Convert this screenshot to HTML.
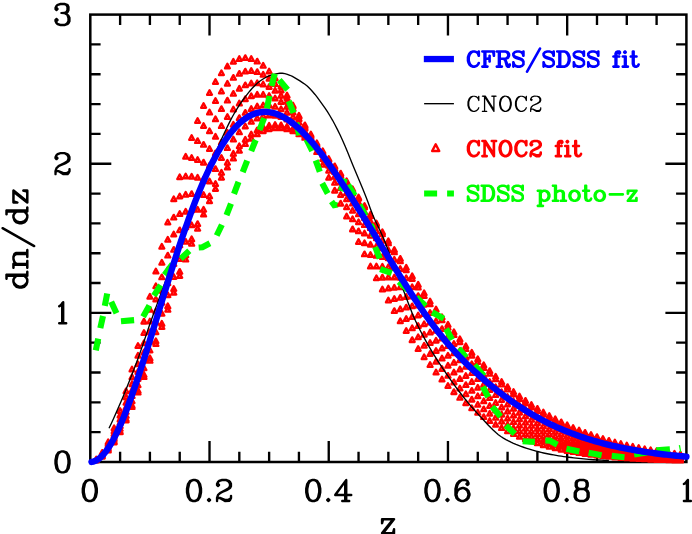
<!DOCTYPE html>
<html><head><meta charset="utf-8"><title>dn/dz</title>
<style>html,body{margin:0;padding:0;background:#fff}svg{display:block}</style></head>
<body>
<svg width="692" height="534" viewBox="0 0 692 534">
<rect width="692" height="534" fill="#fff"/>
<path d="M120.11 462.00v-10.30M120.11 14.60v10.30M149.91 462.00v-10.30M149.91 14.60v10.30M179.72 462.00v-10.30M179.72 14.60v10.30M209.52 462.00v-21.00M209.52 14.60v21.00M239.32 462.00v-10.30M239.32 14.60v10.30M269.13 462.00v-10.30M269.13 14.60v10.30M298.94 462.00v-10.30M298.94 14.60v10.30M328.74 462.00v-21.00M328.74 14.60v21.00M358.55 462.00v-10.30M358.55 14.60v10.30M388.35 462.00v-10.30M388.35 14.60v10.30M418.16 462.00v-10.30M418.16 14.60v10.30M447.96 462.00v-21.00M447.96 14.60v21.00M477.77 462.00v-10.30M477.77 14.60v10.30M507.57 462.00v-10.30M507.57 14.60v10.30M537.38 462.00v-10.30M537.38 14.60v10.30M567.18 462.00v-21.00M567.18 14.60v21.00M596.99 462.00v-10.30M596.99 14.60v10.30M626.79 462.00v-10.30M626.79 14.60v10.30M656.60 462.00v-10.30M656.60 14.60v10.30M90.30 432.17h10.30M686.40 432.17h-10.30M90.30 402.35h10.30M686.40 402.35h-10.30M90.30 372.52h10.30M686.40 372.52h-10.30M90.30 342.69h10.30M686.40 342.69h-10.30M90.30 312.87h21.00M686.40 312.87h-21.00M90.30 283.04h10.30M686.40 283.04h-10.30M90.30 253.21h10.30M686.40 253.21h-10.30M90.30 223.39h10.30M686.40 223.39h-10.30M90.30 193.56h10.30M686.40 193.56h-10.30M90.30 163.73h21.00M686.40 163.73h-21.00M90.30 133.91h10.30M686.40 133.91h-10.30M90.30 104.08h10.30M686.40 104.08h-10.30M90.30 74.25h10.30M686.40 74.25h-10.30M90.30 44.43h10.30M686.40 44.43h-10.30" stroke="#000" stroke-width="2.35" fill="none"/>
<rect x="90.30" y="14.60" width="596.10" height="447.40" fill="none" stroke="#000" stroke-width="2.50"/>
<path transform="translate(79.80 501.00) scale(1.0000)" d="M9.00 -22.25L5.31 -21.00L4.94 -20.62L2.81 -17.31L1.81 -12.38L1.81 -8.62L2.81 -3.69L4.94 -0.38L5.69 0.19L8.69 1.19L11.38 1.19L14.69 0.00L15.06 -0.38L17.19 -3.69L18.19 -8.62L18.19 -12.38L17.19 -17.31L15.06 -20.62L14.31 -21.19L11.31 -22.19ZM9.31 -19.81L10.88 -19.75L12.31 -19.00L13.00 -18.31L13.88 -16.56L14.81 -11.88L14.81 -9.12L13.81 -4.25L13.12 -2.88L12.31 -2.00L10.69 -1.19L9.12 -1.25L7.69 -2.00L7.00 -2.69L6.12 -4.44L5.19 -9.12L5.19 -11.88L6.19 -16.75L6.88 -18.12L7.69 -19.00Z" fill="#000" fill-rule="evenodd"/>
<path transform="translate(184.02 501.00) scale(1.0000)" d="M24.69 -3.19L24.38 -3.06L23.00 -1.69L22.81 -1.25L22.81 -0.75L23.00 -0.31L24.31 1.00L24.75 1.19L25.25 1.19L25.69 1.00L27.00 -0.31L27.19 -0.75L27.19 -1.25L27.00 -1.69L25.62 -3.06L25.31 -3.19ZM34.69 -21.19L34.31 -21.00L33.00 -19.69L31.81 -17.25L31.88 -15.56L32.00 -15.31L33.31 -14.00L33.75 -13.81L34.25 -13.81L34.69 -14.00L36.00 -15.31L36.12 -15.56L36.19 -16.25L36.00 -16.69L34.81 -17.88L35.00 -18.31L35.75 -19.00L38.19 -19.81L41.69 -19.81L43.31 -19.00L44.00 -18.31L44.75 -16.88L44.81 -15.31L44.00 -13.75L41.12 -11.88L35.50 -9.12L33.00 -6.69L31.81 -3.25L31.88 0.44L32.31 1.00L32.75 1.19L33.25 1.19L33.69 1.00L34.00 0.69L34.19 0.25L34.19 -1.50L34.50 -1.81L35.62 -1.81L40.38 1.06L40.75 1.19L45.44 1.12L45.69 1.00L47.00 -0.31L48.19 -2.69L48.19 -5.25L48.00 -5.69L47.69 -6.00L47.25 -6.19L46.75 -6.19L46.31 -6.00L46.00 -5.69L45.81 -5.25L45.81 -3.50L45.12 -2.88L43.69 -2.19L41.25 -2.19L36.31 -4.19L34.75 -4.19L34.69 -4.31L35.06 -5.38L36.88 -7.12L39.12 -8.19L43.50 -9.88L46.62 -11.94L47.12 -12.50L48.12 -14.50L48.12 -17.50L47.00 -19.69L45.69 -21.00L42.31 -22.19L37.75 -22.19ZM9.00 -22.25L5.31 -21.00L4.94 -20.62L2.81 -17.31L1.81 -12.38L1.81 -8.62L2.81 -3.69L4.94 -0.38L5.69 0.19L8.69 1.19L11.38 1.19L14.69 0.00L15.06 -0.38L17.19 -3.69L18.19 -8.62L18.19 -12.38L17.19 -17.31L15.06 -20.62L14.31 -21.19L11.31 -22.19ZM9.31 -19.81L10.88 -19.75L12.31 -19.00L13.00 -18.31L13.88 -16.56L14.81 -11.88L14.81 -9.12L13.81 -4.25L13.12 -2.88L12.31 -2.00L10.69 -1.19L9.12 -1.25L7.69 -2.00L7.00 -2.69L6.12 -4.44L5.19 -9.12L5.19 -11.88L6.19 -16.75L6.88 -18.12L7.69 -19.00Z" fill="#000" fill-rule="evenodd"/>
<path transform="translate(303.24 501.00) scale(1.0000)" d="M24.69 -3.19L24.38 -3.06L23.00 -1.69L22.81 -1.25L22.81 -0.75L23.00 -0.31L24.31 1.00L24.75 1.19L25.25 1.19L25.69 1.00L27.00 -0.31L27.19 -0.75L27.19 -1.25L27.00 -1.69L25.62 -3.06L25.31 -3.19ZM43.31 -22.19L42.50 -22.12L41.94 -21.62L31.12 -6.88L30.81 -6.25L30.81 -5.75L31.00 -5.31L31.31 -5.00L31.75 -4.81L40.75 -4.81L40.81 -1.25L38.75 -1.19L38.31 -1.00L37.88 -0.44L37.81 0.25L38.00 0.69L38.31 1.00L38.75 1.19L46.25 1.19L46.69 1.00L47.00 0.69L47.19 0.25L47.12 -0.44L46.69 -1.00L46.25 -1.19L44.19 -1.25L44.19 -4.75L48.25 -4.81L48.69 -5.00L49.00 -5.31L49.19 -5.75L49.19 -6.25L49.00 -6.69L48.69 -7.00L48.25 -7.19L44.19 -7.25L44.19 -21.31L44.06 -21.62L43.62 -22.06ZM40.75 -15.88L40.81 -7.25L34.50 -7.19L34.44 -7.31ZM9.00 -22.25L5.31 -21.00L4.94 -20.62L2.81 -17.31L1.81 -12.38L1.81 -8.62L2.81 -3.69L4.94 -0.38L5.69 0.19L8.69 1.19L11.38 1.19L14.69 0.00L15.06 -0.38L17.19 -3.69L18.19 -8.62L18.19 -12.38L17.19 -17.31L15.06 -20.62L14.31 -21.19L11.31 -22.19ZM9.31 -19.81L10.88 -19.75L12.31 -19.00L13.00 -18.31L13.88 -16.56L14.81 -11.88L14.81 -9.12L13.81 -4.25L13.12 -2.88L12.31 -2.00L10.69 -1.19L9.12 -1.25L7.69 -2.00L7.00 -2.69L6.12 -4.44L5.19 -9.12L5.19 -11.88L6.19 -16.75L6.88 -18.12L7.69 -19.00Z" fill="#000" fill-rule="evenodd"/>
<path transform="translate(422.46 501.00) scale(1.0000)" d="M24.69 -3.19L24.38 -3.06L23.00 -1.69L22.81 -1.25L22.81 -0.75L23.00 -0.31L24.31 1.00L24.75 1.19L25.25 1.19L25.69 1.00L27.00 -0.31L27.19 -0.75L27.19 -1.25L27.00 -1.69L25.62 -3.06L25.31 -3.19ZM43.25 -22.19L39.62 -22.19L36.31 -21.00L33.88 -18.50L32.88 -16.50L31.81 -12.31L31.81 -5.75L33.00 -2.31L35.31 0.00L38.69 1.19L41.38 1.19L44.69 0.00L47.00 -2.31L48.19 -5.75L48.19 -7.25L47.00 -10.69L44.69 -13.00L41.31 -14.19L39.75 -14.19L36.69 -13.19L36.31 -13.00L35.31 -12.00L35.25 -12.06L36.06 -15.38L36.88 -17.12L38.69 -19.00L40.12 -19.75L42.69 -19.81L44.00 -19.19L44.19 -19.00L44.19 -18.88L43.00 -17.69L42.81 -17.25L42.81 -16.75L43.00 -16.31L44.31 -15.00L44.75 -14.81L45.44 -14.88L45.69 -15.00L47.00 -16.31L47.19 -16.75L47.19 -18.25L46.12 -20.50L45.50 -21.12ZM40.69 -11.81L42.31 -11.00L43.94 -9.38L44.81 -6.81L44.81 -6.19L43.94 -3.62L42.31 -2.00L40.69 -1.19L39.31 -1.19L37.69 -2.00L36.06 -3.62L35.19 -6.19L35.19 -6.81L36.06 -9.38L37.62 -10.94L40.19 -11.81ZM9.00 -22.25L5.31 -21.00L4.94 -20.62L2.81 -17.31L1.81 -12.38L1.81 -8.62L2.81 -3.69L4.94 -0.38L5.69 0.19L8.69 1.19L11.38 1.19L14.69 0.00L15.06 -0.38L17.19 -3.69L18.19 -8.62L18.19 -12.38L17.19 -17.31L15.06 -20.62L14.31 -21.19L11.31 -22.19ZM9.31 -19.81L10.88 -19.75L12.31 -19.00L13.00 -18.31L13.88 -16.56L14.81 -11.88L14.81 -9.12L13.81 -4.25L13.12 -2.88L12.31 -2.00L10.69 -1.19L9.12 -1.25L7.69 -2.00L7.00 -2.69L6.12 -4.44L5.19 -9.12L5.19 -11.88L6.19 -16.75L6.88 -18.12L7.69 -19.00Z" fill="#000" fill-rule="evenodd"/>
<path transform="translate(541.68 501.00) scale(1.0000)" d="M24.69 -3.19L24.38 -3.06L23.00 -1.69L22.81 -1.25L22.81 -0.75L23.00 -0.31L24.31 1.00L24.75 1.19L25.25 1.19L25.69 1.00L27.00 -0.31L27.19 -0.75L27.19 -1.25L27.00 -1.69L25.62 -3.06L25.31 -3.19ZM37.62 -22.19L34.31 -21.00L33.88 -20.50L32.88 -18.50L32.81 -14.75L33.88 -12.50L34.31 -12.00L33.00 -10.69L31.88 -8.50L31.81 -3.75L33.00 -1.31L34.31 0.00L37.69 1.19L42.38 1.19L45.69 0.00L47.00 -1.31L48.19 -3.75L48.12 -8.50L47.00 -10.69L45.69 -12.00L46.12 -12.50L47.19 -14.75L47.19 -18.25L46.12 -20.50L45.69 -21.00L42.31 -22.19ZM38.12 -10.75L41.88 -10.75L43.31 -10.00L44.00 -9.31L44.75 -7.88L44.75 -4.12L44.00 -2.69L43.31 -2.00L41.88 -1.25L38.12 -1.25L36.69 -2.00L36.00 -2.69L35.25 -4.12L35.25 -7.88L36.00 -9.31L36.69 -10.00ZM36.81 -19.00L37.00 -19.19L38.31 -19.81L41.69 -19.81L43.00 -19.19L43.19 -19.00L43.81 -17.69L43.81 -15.31L43.19 -14.00L43.00 -13.81L41.69 -13.19L38.31 -13.19L37.00 -13.81L36.81 -14.00L36.19 -15.31L36.19 -17.69ZM9.00 -22.25L5.31 -21.00L4.94 -20.62L2.81 -17.31L1.81 -12.38L1.81 -8.62L2.81 -3.69L4.94 -0.38L5.69 0.19L8.69 1.19L11.38 1.19L14.69 0.00L15.06 -0.38L17.19 -3.69L18.19 -8.62L18.19 -12.38L17.19 -17.31L15.06 -20.62L14.31 -21.19L11.31 -22.19ZM9.31 -19.81L10.88 -19.75L12.31 -19.00L13.00 -18.31L13.88 -16.56L14.81 -11.88L14.81 -9.12L13.81 -4.25L13.12 -2.88L12.31 -2.00L10.69 -1.19L9.12 -1.25L7.69 -2.00L7.00 -2.69L6.12 -4.44L5.19 -9.12L5.19 -11.88L6.19 -16.75L6.88 -18.12L7.69 -19.00Z" fill="#000" fill-rule="evenodd"/>
<path transform="translate(676.90 501.00) scale(1.0000)" d="M11.25 -22.19L10.75 -22.19L10.31 -22.00L9.00 -20.69L8.81 -20.25L7.50 -18.75L6.38 -18.06L6.00 -17.69L5.81 -17.25L5.81 -16.75L6.00 -16.31L6.31 -16.00L6.75 -15.81L7.44 -15.88L8.56 -16.62L8.81 -16.62L8.81 -1.25L6.75 -1.19L6.31 -1.00L6.00 -0.69L5.81 -0.25L5.88 0.44L6.31 1.00L6.75 1.19L14.25 1.19L14.69 1.00L15.00 0.69L15.19 0.25L15.12 -0.44L14.69 -1.00L14.25 -1.19L12.19 -1.25L12.19 -21.25L12.00 -21.69L11.69 -22.00Z" fill="#000" fill-rule="evenodd"/>
<path transform="translate(52.50 472.40) scale(1.0000)" d="M9.00 -22.25L5.31 -21.00L4.94 -20.62L2.81 -17.31L1.81 -12.38L1.81 -8.62L2.81 -3.69L4.94 -0.38L5.69 0.19L8.69 1.19L11.38 1.19L14.69 0.00L15.06 -0.38L17.19 -3.69L18.19 -8.62L18.19 -12.38L17.19 -17.31L15.06 -20.62L14.31 -21.19L11.31 -22.19ZM9.31 -19.81L10.88 -19.75L12.31 -19.00L13.00 -18.31L13.88 -16.56L14.81 -11.88L14.81 -9.12L13.81 -4.25L13.12 -2.88L12.31 -2.00L10.69 -1.19L9.12 -1.25L7.69 -2.00L7.00 -2.69L6.12 -4.44L5.19 -9.12L5.19 -11.88L6.19 -16.75L6.88 -18.12L7.69 -19.00Z" fill="#000" fill-rule="evenodd"/>
<path transform="translate(52.20 323.27) scale(1.0000)" d="M11.25 -22.19L10.75 -22.19L10.31 -22.00L9.00 -20.69L8.81 -20.25L7.50 -18.75L6.38 -18.06L6.00 -17.69L5.81 -17.25L5.81 -16.75L6.00 -16.31L6.31 -16.00L6.75 -15.81L7.44 -15.88L8.56 -16.62L8.81 -16.62L8.81 -1.25L6.75 -1.19L6.31 -1.00L6.00 -0.69L5.81 -0.25L5.88 0.44L6.31 1.00L6.75 1.19L14.25 1.19L14.69 1.00L15.00 0.69L15.19 0.25L15.12 -0.44L14.69 -1.00L14.25 -1.19L12.19 -1.25L12.19 -21.25L12.00 -21.69L11.69 -22.00Z" fill="#000" fill-rule="evenodd"/>
<path transform="translate(52.50 174.13) scale(1.0000)" d="M4.69 -21.19L4.31 -21.00L3.00 -19.69L1.81 -17.25L1.88 -15.56L2.00 -15.31L3.31 -14.00L3.75 -13.81L4.25 -13.81L4.69 -14.00L6.00 -15.31L6.12 -15.56L6.19 -16.25L6.00 -16.69L4.81 -17.88L5.00 -18.31L5.75 -19.00L8.19 -19.81L11.69 -19.81L13.31 -19.00L14.00 -18.31L14.75 -16.88L14.81 -15.31L14.00 -13.75L11.12 -11.88L5.50 -9.12L3.00 -6.69L1.81 -3.25L1.88 0.44L2.31 1.00L2.75 1.19L3.25 1.19L3.69 1.00L4.00 0.69L4.19 0.25L4.19 -1.50L4.50 -1.81L5.62 -1.81L10.38 1.06L10.75 1.19L15.44 1.12L15.69 1.00L17.00 -0.31L18.19 -2.69L18.19 -5.25L18.00 -5.69L17.69 -6.00L17.25 -6.19L16.75 -6.19L16.31 -6.00L16.00 -5.69L15.81 -5.25L15.81 -3.50L15.12 -2.88L13.69 -2.19L11.25 -2.19L6.31 -4.19L4.75 -4.19L4.69 -4.31L5.06 -5.38L6.88 -7.12L9.12 -8.19L13.50 -9.88L16.62 -11.94L17.12 -12.50L18.12 -14.50L18.12 -17.50L17.00 -19.69L15.69 -21.00L12.31 -22.19L7.75 -22.19Z" fill="#000" fill-rule="evenodd"/>
<path transform="translate(52.50 25.00) scale(1.0000)" d="M7.75 -22.19L4.31 -21.00L3.00 -19.69L1.88 -17.50L1.88 -15.56L2.00 -15.31L3.31 -14.00L3.75 -13.81L4.25 -13.81L4.69 -14.00L6.00 -15.31L6.19 -15.75L6.19 -16.25L6.00 -16.69L4.81 -17.88L5.00 -18.31L5.62 -18.94L8.19 -19.81L11.69 -19.81L13.00 -19.19L13.19 -19.00L13.81 -17.69L13.81 -15.31L13.19 -14.00L13.00 -13.81L11.69 -13.19L8.56 -13.12L8.00 -12.69L7.81 -12.25L7.81 -11.75L8.00 -11.31L8.56 -10.88L11.69 -10.81L13.12 -10.12L13.94 -9.38L14.81 -6.81L14.81 -4.31L14.00 -2.69L13.31 -2.00L11.88 -1.25L8.19 -1.19L5.75 -2.00L5.00 -2.69L4.81 -3.12L6.00 -4.31L6.19 -4.75L6.19 -5.25L6.00 -5.69L4.69 -7.00L4.25 -7.19L3.75 -7.19L3.31 -7.00L2.00 -5.69L1.81 -5.25L1.81 -3.75L3.00 -1.31L4.31 0.00L4.69 0.19L7.75 1.19L12.31 1.19L15.69 0.00L17.00 -1.31L18.12 -3.50L18.12 -7.50L17.00 -9.69L15.00 -11.69L15.69 -12.00L16.00 -12.31L17.12 -14.50L17.19 -18.25L16.12 -20.50L15.69 -21.00L12.31 -22.19Z" fill="#000" fill-rule="evenodd"/>
<path transform="translate(379.05 533.20) scale(1.0000)" d="M2.31 -15.00L2.00 -14.69L1.81 -14.25L1.81 -9.75L2.00 -9.31L2.31 -9.00L2.75 -8.81L3.44 -8.88L4.00 -9.31L4.19 -9.69L5.00 -12.81L11.50 -12.75L1.94 -0.62L1.81 -0.31L1.81 0.31L1.94 0.62L2.38 1.06L2.69 1.19L15.25 1.19L15.69 1.00L16.00 0.69L16.19 0.25L16.19 -4.25L16.00 -4.69L15.69 -5.00L15.25 -5.19L14.56 -5.12L14.00 -4.69L13.81 -4.31L13.00 -1.19L6.50 -1.25L16.06 -13.38L16.19 -13.69L16.19 -14.31L16.06 -14.62L15.62 -15.06L15.31 -15.19L2.75 -15.19Z" fill="#000" fill-rule="evenodd"/>
<path transform="translate(27.30 290.60) rotate(-90) scale(0.9900)" d="M88.25 -15.00L87.88 -14.56L87.75 -14.12L87.75 -9.88L88.00 -9.25L88.62 -8.81L89.12 -8.75L89.56 -8.88L90.12 -9.44L90.94 -12.62L91.06 -12.75L97.38 -12.69L88.00 -0.81L87.75 -0.19L87.75 0.19L87.94 0.69L88.31 1.06L88.81 1.25L101.12 1.25L101.75 1.00L102.12 0.56L102.25 0.12L102.25 -4.12L102.00 -4.75L101.38 -5.19L100.88 -5.25L100.44 -5.12L99.88 -4.56L99.06 -1.38L98.94 -1.25L92.62 -1.31L102.00 -13.19L102.25 -13.81L102.25 -14.19L102.06 -14.69L101.69 -15.06L101.19 -15.25L88.88 -15.25ZM22.00 -14.75L21.81 -14.38L21.75 -13.88L21.88 -13.44L22.25 -13.00L22.88 -12.75L24.75 -12.69L24.75 -1.31L22.88 -1.25L22.25 -1.00L21.88 -0.56L21.75 -0.12L21.88 0.56L22.25 1.00L22.88 1.25L30.12 1.25L30.56 1.12L31.00 0.75L31.19 0.38L31.25 -0.12L31.12 -0.56L30.75 -1.00L30.12 -1.25L28.25 -1.31L28.25 -10.44L29.75 -11.94L32.19 -12.75L33.69 -12.75L34.94 -12.12L35.75 -10.69L35.75 -1.31L33.88 -1.25L33.25 -1.00L32.88 -0.56L32.75 -0.12L32.81 0.38L33.00 0.75L33.44 1.12L33.88 1.25L41.12 1.25L41.56 1.12L42.00 0.75L42.19 0.38L42.25 -0.12L42.12 -0.56L41.75 -1.00L41.12 -1.25L39.25 -1.31L39.25 -11.12L39.12 -11.62L38.19 -13.50L37.75 -14.00L37.31 -14.25L34.19 -15.25L31.50 -15.19L28.69 -14.25L28.31 -14.00L28.06 -14.69L27.69 -15.06L27.19 -15.25L22.88 -15.25L22.44 -15.12ZM76.44 -22.12L76.00 -21.75L75.75 -21.12L75.81 -20.62L76.00 -20.25L76.44 -19.88L76.88 -19.75L78.75 -19.69L78.75 -14.06L78.69 -14.00L76.62 -15.12L76.12 -15.25L73.81 -15.25L70.44 -14.12L70.06 -13.88L68.12 -11.94L67.75 -11.31L66.75 -8.12L66.81 -5.50L67.75 -2.69L68.12 -2.06L70.06 -0.12L70.69 0.25L73.50 1.19L76.12 1.25L76.62 1.12L78.69 0.00L78.94 0.69L79.31 1.06L79.81 1.25L84.12 1.25L84.56 1.12L85.00 0.75L85.25 0.12L85.19 -0.38L85.00 -0.75L84.56 -1.12L84.12 -1.25L82.25 -1.31L82.19 -21.44L81.69 -22.06L81.19 -22.25L76.88 -22.25ZM74.31 -12.75L75.69 -12.75L77.19 -12.00L78.75 -10.44L78.75 -3.56L77.19 -2.00L75.69 -1.25L74.31 -1.25L72.81 -2.00L71.06 -3.75L70.25 -6.19L70.25 -7.81L71.06 -10.25L72.81 -12.00ZM11.44 -22.12L11.00 -21.75L10.75 -21.12L10.81 -20.62L11.00 -20.25L11.44 -19.88L11.88 -19.75L13.75 -19.69L13.75 -14.06L13.69 -14.00L11.62 -15.12L11.12 -15.25L8.81 -15.25L5.44 -14.12L5.06 -13.88L3.12 -11.94L2.75 -11.31L1.75 -8.12L1.81 -5.50L2.75 -2.69L3.12 -2.06L5.06 -0.12L5.69 0.25L8.50 1.19L11.12 1.25L11.62 1.12L13.69 0.00L13.94 0.69L14.31 1.06L14.81 1.25L19.12 1.25L19.56 1.12L20.00 0.75L20.25 0.12L20.19 -0.38L20.00 -0.75L19.56 -1.12L19.12 -1.25L17.25 -1.31L17.19 -21.44L16.69 -22.06L16.19 -22.25L11.88 -22.25ZM9.31 -12.75L10.69 -12.75L12.19 -12.00L13.75 -10.44L13.75 -3.56L12.19 -2.00L10.69 -1.25L9.31 -1.25L7.81 -2.00L6.06 -3.75L5.25 -6.19L5.25 -7.81L6.06 -10.25L7.81 -12.00ZM63.56 -26.12L63.12 -26.25L62.62 -26.19L61.88 -25.62L43.88 6.38L43.75 7.12L44.00 7.75L44.44 8.12L44.88 8.25L45.38 8.19L46.12 7.62L64.12 -24.38L64.25 -25.12L64.00 -25.75Z" fill="#000" fill-rule="evenodd"/>
<path d="M331.5 201.5L335.3 206.6L336.8 202.3" stroke="#00ff00" stroke-width="6.10" fill="none" stroke-linejoin="bevel"/>
<path d="M96.26 456.75l2.40 4.50h-4.80zM102.22 450.18l2.40 4.50h-4.80zM108.18 439.61l2.40 4.50h-4.80zM114.14 425.49l2.40 4.50h-4.80zM120.11 408.30l2.40 4.50h-4.80zM126.07 388.53l2.40 4.50h-4.80zM132.03 366.71l2.40 4.50h-4.80zM137.99 343.34l2.40 4.50h-4.80zM143.95 318.93l2.40 4.50h-4.80zM149.91 293.94l2.40 4.50h-4.80zM155.87 268.82l2.40 4.50h-4.80zM161.83 243.97l2.40 4.50h-4.80zM167.79 219.76l2.40 4.50h-4.80zM173.75 196.53l2.40 4.50h-4.80zM179.72 174.54l2.40 4.50h-4.80zM185.68 154.03l2.40 4.50h-4.80zM191.64 135.22l2.40 4.50h-4.80zM197.60 118.24l2.40 4.50h-4.80zM203.56 103.21l2.40 4.50h-4.80zM209.52 90.22l2.40 4.50h-4.80zM215.48 79.30l2.40 4.50h-4.80zM221.44 70.48l2.40 4.50h-4.80zM227.40 63.72l2.40 4.50h-4.80zM233.36 59.00l2.40 4.50h-4.80zM239.32 56.25l2.40 4.50h-4.80zM245.29 55.39l2.40 4.50h-4.80zM251.25 56.31l2.40 4.50h-4.80zM257.21 58.92l2.40 4.50h-4.80zM263.17 63.09l2.40 4.50h-4.80zM269.13 68.70l2.40 4.50h-4.80zM275.09 75.61l2.40 4.50h-4.80zM281.05 83.69l2.40 4.50h-4.80zM287.01 92.81l2.40 4.50h-4.80zM292.97 102.83l2.40 4.50h-4.80zM298.94 113.62l2.40 4.50h-4.80zM304.90 125.06l2.40 4.50h-4.80zM310.86 137.03l2.40 4.50h-4.80zM316.82 149.40l2.40 4.50h-4.80zM322.78 162.08l2.40 4.50h-4.80zM328.74 174.95l2.40 4.50h-4.80zM334.70 187.93l2.40 4.50h-4.80zM340.66 200.93l2.40 4.50h-4.80zM346.62 213.87l2.40 4.50h-4.80zM352.58 226.68l2.40 4.50h-4.80zM358.55 239.30l2.40 4.50h-4.80zM364.51 251.67l2.40 4.50h-4.80zM370.47 263.75l2.40 4.50h-4.80zM376.43 275.49l2.40 4.50h-4.80zM382.39 286.87l2.40 4.50h-4.80zM388.35 297.84l2.40 4.50h-4.80zM394.31 308.40l2.40 4.50h-4.80zM400.27 318.53l2.40 4.50h-4.80zM406.23 328.21l2.40 4.50h-4.80zM412.19 337.43l2.40 4.50h-4.80zM418.16 346.20l2.40 4.50h-4.80zM424.12 354.51l2.40 4.50h-4.80zM430.08 362.36l2.40 4.50h-4.80zM436.04 369.78l2.40 4.50h-4.80zM442.00 376.75l2.40 4.50h-4.80zM447.96 383.30l2.40 4.50h-4.80zM453.92 389.43l2.40 4.50h-4.80zM459.88 395.16l2.40 4.50h-4.80zM465.84 400.50l2.40 4.50h-4.80zM471.80 405.48l2.40 4.50h-4.80zM477.77 410.10l2.40 4.50h-4.80zM483.73 414.39l2.40 4.50h-4.80zM489.69 418.36l2.40 4.50h-4.80zM495.65 422.02l2.40 4.50h-4.80zM501.61 425.40l2.40 4.50h-4.80zM507.57 428.51l2.40 4.50h-4.80zM513.53 431.37l2.40 4.50h-4.80zM519.49 434.00l2.40 4.50h-4.80zM525.45 436.40l2.40 4.50h-4.80zM531.41 438.60l2.40 4.50h-4.80zM537.38 440.61l2.40 4.50h-4.80zM543.34 442.44l2.40 4.50h-4.80zM549.30 444.10l2.40 4.50h-4.80zM555.26 445.62l2.40 4.50h-4.80zM561.22 446.99l2.40 4.50h-4.80zM567.18 448.24l2.40 4.50h-4.80zM573.14 449.37l2.40 4.50h-4.80zM579.10 450.39l2.40 4.50h-4.80zM585.06 451.31l2.40 4.50h-4.80zM591.02 452.14l2.40 4.50h-4.80zM596.99 452.88l2.40 4.50h-4.80zM602.95 453.55l2.40 4.50h-4.80zM608.91 454.16l2.40 4.50h-4.80zM614.87 454.70l2.40 4.50h-4.80zM620.83 455.18l2.40 4.50h-4.80zM626.79 455.62l2.40 4.50h-4.80zM632.75 456.00l2.40 4.50h-4.80zM638.71 456.35l2.40 4.50h-4.80zM644.67 456.66l2.40 4.50h-4.80zM650.63 456.93l2.40 4.50h-4.80zM656.60 457.18l2.40 4.50h-4.80zM662.56 457.39l2.40 4.50h-4.80zM668.52 457.59l2.40 4.50h-4.80zM674.48 457.76l2.40 4.50h-4.80zM680.44 457.91l2.40 4.50h-4.80zM96.26 456.96l2.40 4.50h-4.80zM102.22 450.99l2.40 4.50h-4.80zM108.18 441.37l2.40 4.50h-4.80zM114.14 428.50l2.40 4.50h-4.80zM120.11 412.77l2.40 4.50h-4.80zM126.07 394.64l2.40 4.50h-4.80zM132.03 374.55l2.40 4.50h-4.80zM137.99 352.96l2.40 4.50h-4.80zM143.95 330.31l2.40 4.50h-4.80zM149.91 307.01l2.40 4.50h-4.80zM155.87 283.47l2.40 4.50h-4.80zM161.83 260.06l2.40 4.50h-4.80zM167.79 237.10l2.40 4.50h-4.80zM173.75 214.90l2.40 4.50h-4.80zM179.72 193.72l2.40 4.50h-4.80zM185.68 173.79l2.40 4.50h-4.80zM191.64 155.31l2.40 4.50h-4.80zM197.60 138.42l2.40 4.50h-4.80zM203.56 123.24l2.40 4.50h-4.80zM209.52 109.87l2.40 4.50h-4.80zM215.48 98.36l2.40 4.50h-4.80zM221.44 88.75l2.40 4.50h-4.80zM227.40 81.02l2.40 4.50h-4.80zM233.36 75.17l2.40 4.50h-4.80zM239.32 71.14l2.40 4.50h-4.80zM245.29 68.90l2.40 4.50h-4.80zM251.25 68.35l2.40 4.50h-4.80zM257.21 69.41l2.40 4.50h-4.80zM263.17 71.98l2.40 4.50h-4.80zM269.13 75.97l2.40 4.50h-4.80zM275.09 81.25l2.40 4.50h-4.80zM281.05 87.71l2.40 4.50h-4.80zM287.01 95.24l2.40 4.50h-4.80zM292.97 103.72l2.40 4.50h-4.80zM298.94 113.02l2.40 4.50h-4.80zM304.90 123.04l2.40 4.50h-4.80zM310.86 133.67l2.40 4.50h-4.80zM316.82 144.79l2.40 4.50h-4.80zM322.78 156.30l2.40 4.50h-4.80zM328.74 168.11l2.40 4.50h-4.80zM334.70 180.13l2.40 4.50h-4.80zM340.66 192.26l2.40 4.50h-4.80zM346.62 204.44l2.40 4.50h-4.80zM352.58 216.60l2.40 4.50h-4.80zM358.55 228.66l2.40 4.50h-4.80zM364.51 240.57l2.40 4.50h-4.80zM370.47 252.28l2.40 4.50h-4.80zM376.43 263.75l2.40 4.50h-4.80zM382.39 274.93l2.40 4.50h-4.80zM388.35 285.79l2.40 4.50h-4.80zM394.31 296.31l2.40 4.50h-4.80zM400.27 306.46l2.40 4.50h-4.80zM406.23 316.23l2.40 4.50h-4.80zM412.19 325.59l2.40 4.50h-4.80zM418.16 334.55l2.40 4.50h-4.80zM424.12 343.10l2.40 4.50h-4.80zM430.08 351.24l2.40 4.50h-4.80zM436.04 358.95l2.40 4.50h-4.80zM442.00 366.26l2.40 4.50h-4.80zM447.96 373.17l2.40 4.50h-4.80zM453.92 379.68l2.40 4.50h-4.80zM459.88 385.80l2.40 4.50h-4.80zM465.84 391.55l2.40 4.50h-4.80zM471.80 396.93l2.40 4.50h-4.80zM477.77 401.96l2.40 4.50h-4.80zM483.73 406.66l2.40 4.50h-4.80zM489.69 411.03l2.40 4.50h-4.80zM495.65 415.10l2.40 4.50h-4.80zM501.61 418.87l2.40 4.50h-4.80zM507.57 422.37l2.40 4.50h-4.80zM513.53 425.60l2.40 4.50h-4.80zM519.49 428.59l2.40 4.50h-4.80zM525.45 431.34l2.40 4.50h-4.80zM531.41 433.88l2.40 4.50h-4.80zM537.38 436.21l2.40 4.50h-4.80zM543.34 438.35l2.40 4.50h-4.80zM549.30 440.31l2.40 4.50h-4.80zM555.26 442.10l2.40 4.50h-4.80zM561.22 443.74l2.40 4.50h-4.80zM567.18 445.24l2.40 4.50h-4.80zM573.14 446.60l2.40 4.50h-4.80zM579.10 447.84l2.40 4.50h-4.80zM585.06 448.97l2.40 4.50h-4.80zM591.02 449.99l2.40 4.50h-4.80zM596.99 450.92l2.40 4.50h-4.80zM602.95 451.76l2.40 4.50h-4.80zM608.91 452.51l2.40 4.50h-4.80zM614.87 453.20l2.40 4.50h-4.80zM620.83 453.82l2.40 4.50h-4.80zM626.79 454.38l2.40 4.50h-4.80zM632.75 454.88l2.40 4.50h-4.80zM638.71 455.33l2.40 4.50h-4.80zM644.67 455.73l2.40 4.50h-4.80zM650.63 456.10l2.40 4.50h-4.80zM656.60 456.42l2.40 4.50h-4.80zM662.56 456.71l2.40 4.50h-4.80zM668.52 456.97l2.40 4.50h-4.80zM674.48 457.20l2.40 4.50h-4.80zM680.44 457.41l2.40 4.50h-4.80zM96.26 457.14l2.40 4.50h-4.80zM102.22 451.70l2.40 4.50h-4.80zM108.18 442.93l2.40 4.50h-4.80zM114.14 431.15l2.40 4.50h-4.80zM120.11 416.74l2.40 4.50h-4.80zM126.07 400.07l2.40 4.50h-4.80zM132.03 381.55l2.40 4.50h-4.80zM137.99 361.57l2.40 4.50h-4.80zM143.95 340.52l2.40 4.50h-4.80zM149.91 318.79l2.40 4.50h-4.80zM155.87 296.72l2.40 4.50h-4.80zM161.83 274.66l2.40 4.50h-4.80zM167.79 252.90l2.40 4.50h-4.80zM173.75 231.73l2.40 4.50h-4.80zM179.72 211.38l2.40 4.50h-4.80zM185.68 192.08l2.40 4.50h-4.80zM191.64 174.01l2.40 4.50h-4.80zM197.60 157.33l2.40 4.50h-4.80zM203.56 142.14l2.40 4.50h-4.80zM209.52 128.55l2.40 4.50h-4.80zM215.48 116.63l2.40 4.50h-4.80zM221.44 106.42l2.40 4.50h-4.80zM227.40 97.92l2.40 4.50h-4.80zM233.36 91.14l2.40 4.50h-4.80zM239.32 86.06l2.40 4.50h-4.80zM245.29 82.64l2.40 4.50h-4.80zM251.25 80.82l2.40 4.50h-4.80zM257.21 80.53l2.40 4.50h-4.80zM263.17 81.69l2.40 4.50h-4.80zM269.13 84.22l2.40 4.50h-4.80zM275.09 88.03l2.40 4.50h-4.80zM281.05 93.02l2.40 4.50h-4.80zM287.01 99.07l2.40 4.50h-4.80zM292.97 106.11l2.40 4.50h-4.80zM298.94 114.00l2.40 4.50h-4.80zM304.90 122.66l2.40 4.50h-4.80zM310.86 131.99l2.40 4.50h-4.80zM316.82 141.88l2.40 4.50h-4.80zM322.78 152.23l2.40 4.50h-4.80zM328.74 162.97l2.40 4.50h-4.80zM334.70 173.99l2.40 4.50h-4.80zM340.66 185.23l2.40 4.50h-4.80zM346.62 196.59l2.40 4.50h-4.80zM352.58 208.02l2.40 4.50h-4.80zM358.55 219.45l2.40 4.50h-4.80zM364.51 230.82l2.40 4.50h-4.80zM370.47 242.07l2.40 4.50h-4.80zM376.43 253.16l2.40 4.50h-4.80zM382.39 264.05l2.40 4.50h-4.80zM388.35 274.69l2.40 4.50h-4.80zM394.31 285.06l2.40 4.50h-4.80zM400.27 295.14l2.40 4.50h-4.80zM406.23 304.89l2.40 4.50h-4.80zM412.19 314.30l2.40 4.50h-4.80zM418.16 323.35l2.40 4.50h-4.80zM424.12 332.04l2.40 4.50h-4.80zM430.08 340.36l2.40 4.50h-4.80zM436.04 348.30l2.40 4.50h-4.80zM442.00 355.86l2.40 4.50h-4.80zM447.96 363.05l2.40 4.50h-4.80zM453.92 369.87l2.40 4.50h-4.80zM459.88 376.32l2.40 4.50h-4.80zM465.84 382.41l2.40 4.50h-4.80zM471.80 388.14l2.40 4.50h-4.80zM477.77 393.54l2.40 4.50h-4.80zM483.73 398.60l2.40 4.50h-4.80zM489.69 403.35l2.40 4.50h-4.80zM495.65 407.79l2.40 4.50h-4.80zM501.61 411.93l2.40 4.50h-4.80zM507.57 415.80l2.40 4.50h-4.80zM513.53 419.39l2.40 4.50h-4.80zM519.49 422.73l2.40 4.50h-4.80zM525.45 425.83l2.40 4.50h-4.80zM531.41 428.70l2.40 4.50h-4.80zM537.38 431.35l2.40 4.50h-4.80zM543.34 433.80l2.40 4.50h-4.80zM549.30 436.06l2.40 4.50h-4.80zM555.26 438.14l2.40 4.50h-4.80zM561.22 440.05l2.40 4.50h-4.80zM567.18 441.80l2.40 4.50h-4.80zM573.14 443.41l2.40 4.50h-4.80zM579.10 444.89l2.40 4.50h-4.80zM585.06 446.24l2.40 4.50h-4.80zM591.02 447.47l2.40 4.50h-4.80zM596.99 448.59l2.40 4.50h-4.80zM602.95 449.61l2.40 4.50h-4.80zM608.91 450.55l2.40 4.50h-4.80zM614.87 451.39l2.40 4.50h-4.80zM620.83 452.16l2.40 4.50h-4.80zM626.79 452.86l2.40 4.50h-4.80zM632.75 453.49l2.40 4.50h-4.80zM638.71 454.06l2.40 4.50h-4.80zM644.67 454.58l2.40 4.50h-4.80zM650.63 455.04l2.40 4.50h-4.80zM656.60 455.46l2.40 4.50h-4.80zM662.56 455.84l2.40 4.50h-4.80zM668.52 456.18l2.40 4.50h-4.80zM674.48 456.49l2.40 4.50h-4.80zM680.44 456.76l2.40 4.50h-4.80zM96.26 457.31l2.40 4.50h-4.80zM102.22 452.33l2.40 4.50h-4.80zM108.18 444.31l2.40 4.50h-4.80zM114.14 433.51l2.40 4.50h-4.80zM120.11 420.27l2.40 4.50h-4.80zM126.07 404.91l2.40 4.50h-4.80zM132.03 387.80l2.40 4.50h-4.80zM137.99 369.28l2.40 4.50h-4.80zM143.95 349.71l2.40 4.50h-4.80zM149.91 329.41l2.40 4.50h-4.80zM155.87 308.72l2.40 4.50h-4.80zM161.83 287.93l2.40 4.50h-4.80zM167.79 267.32l2.40 4.50h-4.80zM173.75 247.15l2.40 4.50h-4.80zM179.72 227.64l2.40 4.50h-4.80zM185.68 209.01l2.40 4.50h-4.80zM191.64 191.41l2.40 4.50h-4.80zM197.60 175.02l2.40 4.50h-4.80zM203.56 159.93l2.40 4.50h-4.80zM209.52 146.26l2.40 4.50h-4.80zM215.48 134.07l2.40 4.50h-4.80zM221.44 123.42l2.40 4.50h-4.80zM227.40 114.33l2.40 4.50h-4.80zM233.36 106.81l2.40 4.50h-4.80zM239.32 100.86l2.40 4.50h-4.80zM245.29 96.44l2.40 4.50h-4.80zM251.25 93.53l2.40 4.50h-4.80zM257.21 92.07l2.40 4.50h-4.80zM263.17 91.99l2.40 4.50h-4.80zM269.13 93.24l2.40 4.50h-4.80zM275.09 95.72l2.40 4.50h-4.80zM281.05 99.36l2.40 4.50h-4.80zM287.01 104.07l2.40 4.50h-4.80zM292.97 109.76l2.40 4.50h-4.80zM298.94 116.34l2.40 4.50h-4.80zM304.90 123.72l2.40 4.50h-4.80zM310.86 131.80l2.40 4.50h-4.80zM316.82 140.49l2.40 4.50h-4.80zM322.78 149.72l2.40 4.50h-4.80zM328.74 159.38l2.40 4.50h-4.80zM334.70 169.41l2.40 4.50h-4.80zM340.66 179.72l2.40 4.50h-4.80zM346.62 190.24l2.40 4.50h-4.80zM352.58 200.90l2.40 4.50h-4.80zM358.55 211.64l2.40 4.50h-4.80zM364.51 222.40l2.40 4.50h-4.80zM370.47 233.12l2.40 4.50h-4.80zM376.43 243.76l2.40 4.50h-4.80zM382.39 254.26l2.40 4.50h-4.80zM388.35 264.60l2.40 4.50h-4.80zM394.31 274.74l2.40 4.50h-4.80zM400.27 284.64l2.40 4.50h-4.80zM406.23 294.28l2.40 4.50h-4.80zM412.19 303.64l2.40 4.50h-4.80zM418.16 312.70l2.40 4.50h-4.80zM424.12 321.44l2.40 4.50h-4.80zM430.08 329.86l2.40 4.50h-4.80zM436.04 337.94l2.40 4.50h-4.80zM442.00 345.68l2.40 4.50h-4.80zM447.96 353.08l2.40 4.50h-4.80zM453.92 360.13l2.40 4.50h-4.80zM459.88 366.84l2.40 4.50h-4.80zM465.84 373.21l2.40 4.50h-4.80zM471.80 379.24l2.40 4.50h-4.80zM477.77 384.95l2.40 4.50h-4.80zM483.73 390.34l2.40 4.50h-4.80zM489.69 395.42l2.40 4.50h-4.80zM495.65 400.19l2.40 4.50h-4.80zM501.61 404.68l2.40 4.50h-4.80zM507.57 408.88l2.40 4.50h-4.80zM513.53 412.81l2.40 4.50h-4.80zM519.49 416.48l2.40 4.50h-4.80zM525.45 419.91l2.40 4.50h-4.80zM531.41 423.10l2.40 4.50h-4.80zM537.38 426.07l2.40 4.50h-4.80zM543.34 428.83l2.40 4.50h-4.80zM549.30 431.38l2.40 4.50h-4.80zM555.26 433.75l2.40 4.50h-4.80zM561.22 435.94l2.40 4.50h-4.80zM567.18 437.96l2.40 4.50h-4.80zM573.14 439.82l2.40 4.50h-4.80zM579.10 441.54l2.40 4.50h-4.80zM585.06 443.12l2.40 4.50h-4.80zM591.02 444.57l2.40 4.50h-4.80zM596.99 445.90l2.40 4.50h-4.80zM602.95 447.12l2.40 4.50h-4.80zM608.91 448.24l2.40 4.50h-4.80zM614.87 449.26l2.40 4.50h-4.80zM620.83 450.19l2.40 4.50h-4.80zM626.79 451.05l2.40 4.50h-4.80zM632.75 451.82l2.40 4.50h-4.80zM638.71 452.53l2.40 4.50h-4.80zM644.67 453.17l2.40 4.50h-4.80zM650.63 453.75l2.40 4.50h-4.80zM656.60 454.28l2.40 4.50h-4.80zM662.56 454.76l2.40 4.50h-4.80zM668.52 455.20l2.40 4.50h-4.80zM674.48 455.59l2.40 4.50h-4.80zM680.44 455.94l2.40 4.50h-4.80zM96.26 457.45l2.40 4.50h-4.80zM102.22 452.89l2.40 4.50h-4.80zM108.18 445.53l2.40 4.50h-4.80zM114.14 435.61l2.40 4.50h-4.80zM120.11 423.41l2.40 4.50h-4.80zM126.07 409.24l2.40 4.50h-4.80zM132.03 393.40l2.40 4.50h-4.80zM137.99 376.21l2.40 4.50h-4.80zM143.95 357.98l2.40 4.50h-4.80zM149.91 339.01l2.40 4.50h-4.80zM155.87 319.60l2.40 4.50h-4.80zM161.83 300.00l2.40 4.50h-4.80zM167.79 280.49l2.40 4.50h-4.80zM173.75 261.29l2.40 4.50h-4.80zM179.72 242.62l2.40 4.50h-4.80zM185.68 224.66l2.40 4.50h-4.80zM191.64 207.59l2.40 4.50h-4.80zM197.60 191.55l2.40 4.50h-4.80zM203.56 176.65l2.40 4.50h-4.80zM209.52 162.99l2.40 4.50h-4.80zM215.48 150.66l2.40 4.50h-4.80zM221.44 139.71l2.40 4.50h-4.80zM227.40 130.17l2.40 4.50h-4.80zM233.36 122.07l2.40 4.50h-4.80zM239.32 115.41l2.40 4.50h-4.80zM245.29 110.17l2.40 4.50h-4.80zM251.25 106.33l2.40 4.50h-4.80zM257.21 103.86l2.40 4.50h-4.80zM263.17 102.70l2.40 4.50h-4.80zM269.13 102.81l2.40 4.50h-4.80zM275.09 104.11l2.40 4.50h-4.80zM281.05 106.54l2.40 4.50h-4.80zM287.01 110.02l2.40 4.50h-4.80zM292.97 114.48l2.40 4.50h-4.80zM298.94 119.84l2.40 4.50h-4.80zM304.90 126.01l2.40 4.50h-4.80zM310.86 132.91l2.40 4.50h-4.80zM316.82 140.46l2.40 4.50h-4.80zM322.78 148.59l2.40 4.50h-4.80zM328.74 157.21l2.40 4.50h-4.80zM334.70 166.25l2.40 4.50h-4.80zM340.66 175.63l2.40 4.50h-4.80zM346.62 185.29l2.40 4.50h-4.80zM352.58 195.15l2.40 4.50h-4.80zM358.55 205.17l2.40 4.50h-4.80zM364.51 215.27l2.40 4.50h-4.80zM370.47 225.41l2.40 4.50h-4.80zM376.43 235.53l2.40 4.50h-4.80zM382.39 245.59l2.40 4.50h-4.80zM388.35 255.55l2.40 4.50h-4.80zM394.31 265.38l2.40 4.50h-4.80zM400.27 275.03l2.40 4.50h-4.80zM406.23 284.48l2.40 4.50h-4.80zM412.19 293.71l2.40 4.50h-4.80zM418.16 302.69l2.40 4.50h-4.80zM424.12 311.41l2.40 4.50h-4.80zM430.08 319.84l2.40 4.50h-4.80zM436.04 327.98l2.40 4.50h-4.80zM442.00 335.82l2.40 4.50h-4.80zM447.96 343.35l2.40 4.50h-4.80zM453.92 350.57l2.40 4.50h-4.80zM459.88 357.48l2.40 4.50h-4.80zM465.84 364.07l2.40 4.50h-4.80zM471.80 370.35l2.40 4.50h-4.80zM477.77 376.31l2.40 4.50h-4.80zM483.73 381.98l2.40 4.50h-4.80zM489.69 387.34l2.40 4.50h-4.80zM495.65 392.41l2.40 4.50h-4.80zM501.61 397.19l2.40 4.50h-4.80zM507.57 401.70l2.40 4.50h-4.80zM513.53 405.94l2.40 4.50h-4.80zM519.49 409.93l2.40 4.50h-4.80zM525.45 413.66l2.40 4.50h-4.80zM531.41 417.16l2.40 4.50h-4.80zM537.38 420.43l2.40 4.50h-4.80zM543.34 423.48l2.40 4.50h-4.80zM549.30 426.33l2.40 4.50h-4.80zM555.26 428.98l2.40 4.50h-4.80zM561.22 431.44l2.40 4.50h-4.80zM567.18 433.73l2.40 4.50h-4.80zM573.14 435.85l2.40 4.50h-4.80zM579.10 437.81l2.40 4.50h-4.80zM585.06 439.63l2.40 4.50h-4.80zM591.02 441.31l2.40 4.50h-4.80zM596.99 442.86l2.40 4.50h-4.80zM602.95 444.28l2.40 4.50h-4.80zM608.91 445.60l2.40 4.50h-4.80zM614.87 446.80l2.40 4.50h-4.80zM620.83 447.91l2.40 4.50h-4.80zM626.79 448.93l2.40 4.50h-4.80zM632.75 449.86l2.40 4.50h-4.80zM638.71 450.72l2.40 4.50h-4.80zM644.67 451.50l2.40 4.50h-4.80zM650.63 452.21l2.40 4.50h-4.80zM656.60 452.86l2.40 4.50h-4.80zM662.56 453.45l2.40 4.50h-4.80zM668.52 453.99l2.40 4.50h-4.80zM674.48 454.48l2.40 4.50h-4.80zM680.44 454.93l2.40 4.50h-4.80zM96.26 457.58l2.40 4.50h-4.80zM102.22 453.39l2.40 4.50h-4.80zM108.18 446.62l2.40 4.50h-4.80zM114.14 437.49l2.40 4.50h-4.80zM120.11 426.23l2.40 4.50h-4.80zM126.07 413.12l2.40 4.50h-4.80zM132.03 398.44l2.40 4.50h-4.80zM137.99 382.46l2.40 4.50h-4.80zM143.95 365.46l2.40 4.50h-4.80zM149.91 347.72l2.40 4.50h-4.80zM155.87 329.48l2.40 4.50h-4.80zM161.83 311.02l2.40 4.50h-4.80zM167.79 292.54l2.40 4.50h-4.80zM173.75 274.28l2.40 4.50h-4.80zM179.72 256.42l2.40 4.50h-4.80zM185.68 239.16l2.40 4.50h-4.80zM191.64 222.63l2.40 4.50h-4.80zM197.60 206.99l2.40 4.50h-4.80zM203.56 192.34l2.40 4.50h-4.80zM209.52 178.79l2.40 4.50h-4.80zM215.48 166.41l2.40 4.50h-4.80zM221.44 155.27l2.40 4.50h-4.80zM227.40 145.41l2.40 4.50h-4.80zM233.36 136.86l2.40 4.50h-4.80zM239.32 129.62l2.40 4.50h-4.80zM245.29 123.71l2.40 4.50h-4.80zM251.25 119.09l2.40 4.50h-4.80zM257.21 115.75l2.40 4.50h-4.80zM263.17 113.66l2.40 4.50h-4.80zM269.13 112.76l2.40 4.50h-4.80zM275.09 113.02l2.40 4.50h-4.80zM281.05 114.36l2.40 4.50h-4.80zM287.01 116.73l2.40 4.50h-4.80zM292.97 120.07l2.40 4.50h-4.80zM298.94 124.30l2.40 4.50h-4.80zM304.90 129.34l2.40 4.50h-4.80zM310.86 135.14l2.40 4.50h-4.80zM316.82 141.62l2.40 4.50h-4.80zM322.78 148.69l2.40 4.50h-4.80zM328.74 156.30l2.40 4.50h-4.80zM334.70 164.37l2.40 4.50h-4.80zM340.66 172.84l2.40 4.50h-4.80zM346.62 181.63l2.40 4.50h-4.80zM352.58 190.70l2.40 4.50h-4.80zM358.55 199.96l2.40 4.50h-4.80zM364.51 209.38l2.40 4.50h-4.80zM370.47 218.90l2.40 4.50h-4.80zM376.43 228.46l2.40 4.50h-4.80zM382.39 238.03l2.40 4.50h-4.80zM388.35 247.55l2.40 4.50h-4.80zM394.31 257.00l2.40 4.50h-4.80zM400.27 266.34l2.40 4.50h-4.80zM406.23 275.54l2.40 4.50h-4.80zM412.19 284.56l2.40 4.50h-4.80zM418.16 293.39l2.40 4.50h-4.80zM424.12 302.00l2.40 4.50h-4.80zM430.08 310.38l2.40 4.50h-4.80zM436.04 318.52l2.40 4.50h-4.80zM442.00 326.39l2.40 4.50h-4.80zM447.96 333.98l2.40 4.50h-4.80zM453.92 341.30l2.40 4.50h-4.80zM459.88 348.34l2.40 4.50h-4.80zM465.84 355.09l2.40 4.50h-4.80zM471.80 361.55l2.40 4.50h-4.80zM477.77 367.72l2.40 4.50h-4.80zM483.73 373.60l2.40 4.50h-4.80zM489.69 379.21l2.40 4.50h-4.80zM495.65 384.53l2.40 4.50h-4.80zM501.61 389.57l2.40 4.50h-4.80zM507.57 394.35l2.40 4.50h-4.80zM513.53 398.87l2.40 4.50h-4.80zM519.49 403.14l2.40 4.50h-4.80zM525.45 407.15l2.40 4.50h-4.80zM531.41 410.94l2.40 4.50h-4.80zM537.38 414.49l2.40 4.50h-4.80zM543.34 417.82l2.40 4.50h-4.80zM549.30 420.94l2.40 4.50h-4.80zM555.26 423.87l2.40 4.50h-4.80zM561.22 426.60l2.40 4.50h-4.80zM567.18 429.15l2.40 4.50h-4.80zM573.14 431.52l2.40 4.50h-4.80zM579.10 433.73l2.40 4.50h-4.80zM585.06 435.79l2.40 4.50h-4.80zM591.02 437.69l2.40 4.50h-4.80zM596.99 439.46l2.40 4.50h-4.80zM602.95 441.10l2.40 4.50h-4.80zM608.91 442.62l2.40 4.50h-4.80zM614.87 444.02l2.40 4.50h-4.80zM620.83 445.32l2.40 4.50h-4.80zM626.79 446.51l2.40 4.50h-4.80zM632.75 447.61l2.40 4.50h-4.80zM638.71 448.62l2.40 4.50h-4.80zM644.67 449.55l2.40 4.50h-4.80zM650.63 450.40l2.40 4.50h-4.80zM656.60 451.19l2.40 4.50h-4.80zM662.56 451.90l2.40 4.50h-4.80zM668.52 452.56l2.40 4.50h-4.80zM674.48 453.16l2.40 4.50h-4.80zM680.44 453.71l2.40 4.50h-4.80zM96.26 457.69l2.40 4.50h-4.80zM102.22 453.84l2.40 4.50h-4.80zM108.18 447.60l2.40 4.50h-4.80zM114.14 439.17l2.40 4.50h-4.80zM120.11 428.76l2.40 4.50h-4.80zM126.07 416.62l2.40 4.50h-4.80zM132.03 402.98l2.40 4.50h-4.80zM137.99 388.10l2.40 4.50h-4.80zM143.95 372.23l2.40 4.50h-4.80zM149.91 355.62l2.40 4.50h-4.80zM155.87 338.49l2.40 4.50h-4.80zM161.83 321.07l2.40 4.50h-4.80zM167.79 303.58l2.40 4.50h-4.80zM173.75 286.21l2.40 4.50h-4.80zM179.72 269.16l2.40 4.50h-4.80zM185.68 252.57l2.40 4.50h-4.80zM191.64 236.61l2.40 4.50h-4.80zM197.60 221.40l2.40 4.50h-4.80zM203.56 207.05l2.40 4.50h-4.80zM209.52 193.67l2.40 4.50h-4.80zM215.48 181.34l2.40 4.50h-4.80zM221.44 170.10l2.40 4.50h-4.80zM227.40 160.02l2.40 4.50h-4.80zM233.36 151.13l2.40 4.50h-4.80zM239.32 143.45l2.40 4.50h-4.80zM245.29 136.97l2.40 4.50h-4.80zM251.25 131.71l2.40 4.50h-4.80zM257.21 127.64l2.40 4.50h-4.80zM263.17 124.74l2.40 4.50h-4.80zM269.13 122.97l2.40 4.50h-4.80zM275.09 122.30l2.40 4.50h-4.80zM281.05 122.67l2.40 4.50h-4.80zM287.01 124.05l2.40 4.50h-4.80zM292.97 126.36l2.40 4.50h-4.80zM298.94 129.55l2.40 4.50h-4.80zM304.90 133.57l2.40 4.50h-4.80zM310.86 138.33l2.40 4.50h-4.80zM316.82 143.79l2.40 4.50h-4.80zM322.78 149.87l2.40 4.50h-4.80zM328.74 156.52l2.40 4.50h-4.80zM334.70 163.66l2.40 4.50h-4.80zM340.66 171.23l2.40 4.50h-4.80zM346.62 179.17l2.40 4.50h-4.80zM352.58 187.43l2.40 4.50h-4.80zM358.55 195.94l2.40 4.50h-4.80zM364.51 204.66l2.40 4.50h-4.80zM370.47 213.53l2.40 4.50h-4.80zM376.43 222.51l2.40 4.50h-4.80zM382.39 231.54l2.40 4.50h-4.80zM388.35 240.59l2.40 4.50h-4.80zM394.31 249.61l2.40 4.50h-4.80zM400.27 258.58l2.40 4.50h-4.80zM406.23 267.46l2.40 4.50h-4.80zM412.19 276.23l2.40 4.50h-4.80zM418.16 284.84l2.40 4.50h-4.80zM424.12 293.29l2.40 4.50h-4.80zM430.08 301.56l2.40 4.50h-4.80zM436.04 309.61l2.40 4.50h-4.80zM442.00 317.45l2.40 4.50h-4.80zM447.96 325.05l2.40 4.50h-4.80zM453.92 332.40l2.40 4.50h-4.80zM459.88 339.51l2.40 4.50h-4.80zM465.84 346.36l2.40 4.50h-4.80zM471.80 352.94l2.40 4.50h-4.80zM477.77 359.27l2.40 4.50h-4.80zM483.73 365.32l2.40 4.50h-4.80zM489.69 371.11l2.40 4.50h-4.80zM495.65 376.64l2.40 4.50h-4.80zM501.61 381.91l2.40 4.50h-4.80zM507.57 386.92l2.40 4.50h-4.80zM513.53 391.68l2.40 4.50h-4.80zM519.49 396.19l2.40 4.50h-4.80zM525.45 400.46l2.40 4.50h-4.80zM531.41 404.50l2.40 4.50h-4.80zM537.38 408.31l2.40 4.50h-4.80zM543.34 411.91l2.40 4.50h-4.80zM549.30 415.29l2.40 4.50h-4.80zM555.26 418.47l2.40 4.50h-4.80zM561.22 421.46l2.40 4.50h-4.80zM567.18 424.26l2.40 4.50h-4.80zM573.14 426.88l2.40 4.50h-4.80zM579.10 429.33l2.40 4.50h-4.80zM585.06 431.62l2.40 4.50h-4.80zM591.02 433.76l2.40 4.50h-4.80zM596.99 435.75l2.40 4.50h-4.80zM602.95 437.60l2.40 4.50h-4.80zM608.91 439.32l2.40 4.50h-4.80zM614.87 440.92l2.40 4.50h-4.80zM620.83 442.41l2.40 4.50h-4.80zM626.79 443.79l2.40 4.50h-4.80zM632.75 445.06l2.40 4.50h-4.80zM638.71 446.24l2.40 4.50h-4.80zM644.67 447.32l2.40 4.50h-4.80zM650.63 448.33l2.40 4.50h-4.80zM656.60 449.25l2.40 4.50h-4.80zM662.56 450.11l2.40 4.50h-4.80zM668.52 450.89l2.40 4.50h-4.80zM674.48 451.61l2.40 4.50h-4.80zM680.44 452.28l2.40 4.50h-4.80zM96.26 457.73l2.40 4.50h-4.80zM102.22 453.98l2.40 4.50h-4.80zM108.18 447.91l2.40 4.50h-4.80zM114.14 439.70l2.40 4.50h-4.80zM120.11 429.56l2.40 4.50h-4.80zM126.07 417.72l2.40 4.50h-4.80zM132.03 404.42l2.40 4.50h-4.80zM137.99 389.89l2.40 4.50h-4.80zM143.95 374.38l2.40 4.50h-4.80zM149.91 358.12l2.40 4.50h-4.80zM155.87 341.34l2.40 4.50h-4.80zM161.83 324.27l2.40 4.50h-4.80zM167.79 307.10l2.40 4.50h-4.80zM173.75 290.03l2.40 4.50h-4.80zM179.72 273.23l2.40 4.50h-4.80zM185.68 256.88l2.40 4.50h-4.80zM191.64 241.11l2.40 4.50h-4.80zM197.60 226.05l2.40 4.50h-4.80zM203.56 211.82l2.40 4.50h-4.80zM209.52 198.51l2.40 4.50h-4.80zM215.48 186.20l2.40 4.50h-4.80zM221.44 174.95l2.40 4.50h-4.80zM227.40 164.82l2.40 4.50h-4.80zM233.36 155.83l2.40 4.50h-4.80zM239.32 148.02l2.40 4.50h-4.80zM245.29 141.39l2.40 4.50h-4.80zM251.25 135.93l2.40 4.50h-4.80zM257.21 131.64l2.40 4.50h-4.80zM263.17 128.49l2.40 4.50h-4.80zM269.13 126.45l2.40 4.50h-4.80zM275.09 125.50l2.40 4.50h-4.80zM281.05 125.57l2.40 4.50h-4.80zM287.01 126.63l2.40 4.50h-4.80zM292.97 128.62l2.40 4.50h-4.80zM298.94 131.49l2.40 4.50h-4.80zM304.90 135.17l2.40 4.50h-4.80zM310.86 139.60l2.40 4.50h-4.80zM316.82 144.73l2.40 4.50h-4.80zM322.78 150.49l2.40 4.50h-4.80zM328.74 156.82l2.40 4.50h-4.80zM334.70 163.65l2.40 4.50h-4.80zM340.66 170.93l2.40 4.50h-4.80zM346.62 178.59l2.40 4.50h-4.80zM352.58 186.58l2.40 4.50h-4.80zM358.55 194.84l2.40 4.50h-4.80zM364.51 203.32l2.40 4.50h-4.80zM370.47 211.97l2.40 4.50h-4.80zM376.43 220.74l2.40 4.50h-4.80zM382.39 229.58l2.40 4.50h-4.80zM388.35 238.46l2.40 4.50h-4.80zM394.31 247.34l2.40 4.50h-4.80zM400.27 256.17l2.40 4.50h-4.80zM406.23 264.94l2.40 4.50h-4.80zM412.19 273.60l2.40 4.50h-4.80zM418.16 282.13l2.40 4.50h-4.80zM424.12 290.51l2.40 4.50h-4.80zM430.08 298.72l2.40 4.50h-4.80zM436.04 306.74l2.40 4.50h-4.80zM442.00 314.55l2.40 4.50h-4.80zM447.96 322.13l2.40 4.50h-4.80zM453.92 329.49l2.40 4.50h-4.80zM459.88 336.61l2.40 4.50h-4.80zM465.84 343.48l2.40 4.50h-4.80zM471.80 350.09l2.40 4.50h-4.80zM477.77 356.45l2.40 4.50h-4.80zM483.73 362.56l2.40 4.50h-4.80zM489.69 368.40l2.40 4.50h-4.80zM495.65 373.99l2.40 4.50h-4.80zM501.61 379.32l2.40 4.50h-4.80zM507.57 384.40l2.40 4.50h-4.80zM513.53 389.23l2.40 4.50h-4.80zM519.49 393.82l2.40 4.50h-4.80zM525.45 398.17l2.40 4.50h-4.80zM531.41 402.29l2.40 4.50h-4.80zM537.38 406.18l2.40 4.50h-4.80zM543.34 409.86l2.40 4.50h-4.80zM549.30 413.33l2.40 4.50h-4.80zM555.26 416.59l2.40 4.50h-4.80zM561.22 419.66l2.40 4.50h-4.80zM567.18 422.54l2.40 4.50h-4.80zM573.14 425.24l2.40 4.50h-4.80zM579.10 427.78l2.40 4.50h-4.80zM585.06 430.14l2.40 4.50h-4.80zM591.02 432.36l2.40 4.50h-4.80zM596.99 434.42l2.40 4.50h-4.80zM602.95 436.35l2.40 4.50h-4.80zM608.91 438.14l2.40 4.50h-4.80zM614.87 439.81l2.40 4.50h-4.80zM620.83 441.36l2.40 4.50h-4.80zM626.79 442.80l2.40 4.50h-4.80zM632.75 444.13l2.40 4.50h-4.80zM638.71 445.37l2.40 4.50h-4.80zM644.67 446.51l2.40 4.50h-4.80zM650.63 447.57l2.40 4.50h-4.80zM656.60 448.54l2.40 4.50h-4.80zM662.56 449.44l2.40 4.50h-4.80zM668.52 450.27l2.40 4.50h-4.80zM674.48 451.04l2.40 4.50h-4.80zM680.44 451.74l2.40 4.50h-4.80z" stroke="#ff0000" stroke-width="2.40" fill="none" stroke-linejoin="round"/>
<path d="M109.02 428.30L111.53 422.98L114.04 417.51L116.55 411.88L119.07 406.10L121.58 400.20L124.09 394.16L126.60 388.00L129.11 381.73L131.63 375.35L134.14 368.88L136.65 362.29L139.16 355.36L141.67 348.15L144.19 340.78L146.70 333.37L149.21 326.04L151.72 318.92L154.23 312.02L156.75 305.12L159.26 298.23L161.77 291.36L164.28 284.50L166.79 277.65L169.31 270.83L171.82 264.03L174.33 257.25L176.84 250.51L179.35 243.80L181.87 237.13L184.38 230.50L186.89 223.91L189.40 217.37L191.91 210.88L194.43 204.44L196.94 198.06L199.45 191.74L201.96 185.48L204.47 179.29L206.99 173.17L209.50 167.12L212.01 161.15L214.52 155.26L217.03 149.45L219.55 143.71L222.06 138.06L224.57 132.55L227.08 127.22L229.59 122.12L232.11 117.29L234.62 112.78L237.13 108.56L239.64 104.64L242.15 100.98L244.67 97.55L247.18 94.30L249.69 91.20L252.20 88.32L254.71 85.73L257.23 83.34L259.74 81.25L262.25 79.50L264.76 77.98L267.27 76.71L269.79 75.64L272.30 74.81L274.81 74.17L277.32 73.61L279.83 73.26L282.35 73.26L284.86 73.62L287.37 74.30L289.88 75.25L292.39 76.44L294.91 77.81L297.42 79.32L299.93 80.93L302.44 82.60L304.95 84.28L307.47 86.29L309.98 88.78L312.49 91.56L315.00 94.45L317.51 97.65L320.03 101.08L322.54 104.59L325.05 108.20L327.56 111.98L330.07 115.99L332.59 120.29L335.10 124.94L337.61 129.89L340.12 135.08L342.63 140.46L345.15 146.16L347.66 152.22L350.17 158.44L352.68 164.65L355.19 170.71L357.71 176.69L360.22 182.67L362.73 188.73L365.24 194.96L367.75 201.59L370.27 208.40L372.78 214.95L375.29 220.81L377.80 226.01L380.31 231.11L382.83 236.66L385.34 242.85L387.85 249.44L390.36 256.21L392.87 262.94L395.39 269.50L397.90 276.04L400.41 282.58L402.92 289.08L405.43 295.54L407.95 302.18L410.46 308.84L412.97 315.17L415.48 320.80L417.99 325.97L420.51 330.95L423.02 335.74L425.53 340.36L428.04 344.83L430.55 349.15L433.07 353.33L435.58 357.40L438.09 361.36L440.60 365.22L443.11 369.00L445.63 372.71L448.14 376.36L450.65 379.94L453.16 383.45L455.67 386.88L458.19 390.23L460.70 393.51L463.21 396.71L465.72 399.84L468.23 402.90L470.75 405.88L473.26 408.79L475.77 411.63L478.28 414.40L480.79 417.11L483.31 419.82L485.82 422.54L488.33 425.21L490.84 427.80L493.35 430.26L495.87 432.57L498.38 434.68L500.89 436.54L503.40 438.14L505.91 439.58L508.43 440.92L510.94 442.17L513.45 443.32L515.96 444.40L518.47 445.41L520.99 446.36L523.50 447.25L526.01 448.10L528.52 448.91L531.03 449.68L533.55 450.42L536.06 451.11L538.57 451.77L541.08 452.39L543.59 452.97L546.11 453.51L548.62 454.02L551.13 454.50L553.64 454.96L556.15 455.40L558.67 455.81L561.18 456.20L563.69 456.57L566.20 456.91L568.71 457.23L571.23 457.52L573.74 457.81L576.25 458.09L578.76 458.36L581.27 458.62L583.79 458.87L586.30 459.11L588.81 459.33L591.32 459.53L593.83 459.71L596.35 459.87L598.86 460.01L601.37 460.12L603.88 460.22L606.39 460.30L608.91 460.36" stroke="#000" stroke-width="1.35" fill="none"/>
<path d="M95.8 350.4L98.2 338.7M100.3 328.2L103.0 316.0M104.8 305.8L107.2 293.5M111.2 301.7L116.5 313.3M121.0 321.2L134.1 320.1M143.1 316.7L149.4 305.5M153.9 295.7L160.7 285.2M164.5 274.8L172.5 264.2M180.7 258.7L189.3 250.7M198.7 247.5L202.4 247.2L209.9 243.3M216.7 235.5L221.9 224.7M226.5 215.2L231.0 203.7M234.0 193.9L238.5 181.9M242.7 172.2L247.2 160.7M251.2 151.2L255.7 140.0M259.5 130.0L264.1 118.2M266.9 108.5L269.5 96.0M271.5 86.0L274.8 73.7M279.3 80.0L287.6 89.7M288.7 101.0L293.6 112.9M296.3 122.8L299.3 135.2M306.5 139.5L312.2 150.8M315.7 160.4L319.8 171.7M322.2 183.3L327.7 193.5M341.0 191.0L344.8 178.6M348.1 184.8L354.8 195.6M359.6 204.7L365.6 215.9M370.4 224.6L372.0 227.0L374.0 236.5M375.2 247.0L379.7 258.5M380.2 269.1L391.7 273.2M398.8 281.8L408.3 290.2M416.3 297.3L425.6 305.9M432.2 312.3L443.8 318.6M446.2 328.8L452.0 339.7M458.7 348.5L466.2 357.5M474.5 365.0L484.0 376.0M482.8 386.6L488.2 397.1M492.2 406.7L500.5 416.5M505.7 425.4L514.7 433.7M522.6 441.2L534.9 441.9M545.3 440.5L549.8 440.6L557.3 444.7M566.4 448.7L579.3 451.6M588.6 452.8L601.6 455.3M611.7 455.9L624.5 457.2M634.1 454.5L647.0 452.5M656.3 450.2L669.9 449.2" stroke="#00ff00" stroke-width="6.10" fill="none" stroke-linejoin="miter"/>
<path d="M680.7 452L679.4 445.1" stroke="#00ff00" stroke-width="1.3" fill="none"/>
<path d="M91.49 461.94L93.48 461.56L95.47 460.82L97.46 459.74L99.45 458.31L101.44 456.55L103.43 454.46L105.42 452.05L107.41 449.34L109.40 446.32L111.39 443.02L113.38 439.45L115.37 435.62L117.36 431.53L119.35 427.21L121.34 422.66L123.33 417.90L125.32 412.95L127.31 407.80L129.30 402.48L131.29 397.00L133.28 391.37L135.26 385.61L137.25 379.72L139.24 373.72L141.23 367.62L143.22 361.43L145.21 355.17L147.20 348.84L149.19 342.45L151.18 336.03L153.17 329.57L155.16 323.09L157.15 316.60L159.14 310.10L161.13 303.62L163.12 297.15L165.11 290.70L167.10 284.29L169.09 277.93L171.08 271.61L173.07 265.35L175.06 259.16L177.05 253.04L179.04 247.00L181.03 241.04L183.02 235.18L185.01 229.41L187.00 223.75L188.99 218.19L190.98 212.75L192.96 207.43L194.95 202.22L196.94 197.15L198.93 192.20L200.92 187.39L202.91 182.71L204.90 178.18L206.89 173.78L208.88 169.53L210.87 165.43L212.86 161.47L214.85 157.66L216.84 154.01L218.83 150.50L220.82 147.15L222.81 143.96L224.80 140.92L226.79 138.03L228.78 135.30L230.77 132.73L232.76 130.31L234.75 128.04L236.74 125.93L238.73 123.97L240.72 122.17L242.71 120.51L244.70 119.01L246.69 117.65L248.68 116.44L250.66 115.38L252.65 114.46L254.64 113.69L256.63 113.05L258.62 112.56L260.61 112.20L262.60 111.97L264.59 111.88L266.58 111.92L268.57 112.08L270.56 112.37L272.55 112.79L274.54 113.32L276.53 113.97L278.52 114.74L280.51 115.61L282.50 116.60L284.49 117.69L286.48 118.89L288.47 120.19L290.46 121.59L292.45 123.08L294.44 124.67L296.43 126.35L298.42 128.11L300.41 129.96L302.40 131.89L304.39 133.90L306.38 135.98L308.36 138.14L310.35 140.37L312.34 142.66L314.33 145.02L316.32 147.44L318.31 149.92L320.30 152.46L322.29 155.05L324.28 157.70L326.27 160.39L328.26 163.13L330.25 165.91L332.24 168.73L334.23 171.60L336.22 174.50L338.21 177.43L340.20 180.40L342.19 183.40L344.18 186.42L346.17 189.47L348.16 192.55L350.15 195.64L352.14 198.76L354.13 201.89L356.12 205.05L358.11 208.21L360.10 211.40L362.09 214.59L364.08 217.79L366.07 221.01L368.05 224.23L370.04 227.45L372.03 230.69L374.02 233.92L376.01 237.16L378.00 240.41L379.99 243.65L381.98 246.89L383.97 250.13L385.96 253.37L387.95 256.60L389.94 259.83L391.93 263.05L393.92 266.26L395.91 269.47L397.90 272.66L399.89 275.84L401.88 279.00L403.87 282.15L405.86 285.27L407.85 288.38L409.84 291.47L411.83 294.53L413.82 297.56L415.81 300.57L417.80 303.54L419.79 306.49L421.78 309.39L423.77 312.27L425.75 315.10L427.74 317.89L429.73 320.65L431.72 323.36L433.71 326.03L435.70 328.65L437.69 331.23L439.68 333.76L441.67 336.25L443.66 338.69L445.65 341.09L447.64 343.44L449.63 345.74L451.62 348.01L453.61 350.23L455.60 352.40L457.59 354.54L459.58 356.64L461.57 358.70L463.56 360.73L465.55 362.72L467.54 364.67L469.53 366.59L471.52 368.48L473.51 370.35L475.50 372.18L477.49 373.98L479.48 375.76L481.47 377.52L483.45 379.24L485.44 380.95L487.43 382.63L489.42 384.28L491.41 385.92L493.40 387.53L495.39 389.12L497.38 390.69L499.37 392.23L501.36 393.75L503.35 395.25L505.34 396.73L507.33 398.19L509.32 399.62L511.31 401.03L513.30 402.42L515.29 403.79L517.28 405.13L519.27 406.45L521.26 407.75L523.25 409.02L525.24 410.27L527.23 411.50L529.22 412.71L531.21 413.89L533.20 415.06L535.19 416.20L537.18 417.31L539.17 418.41L541.15 419.48L543.14 420.53L545.13 421.56L547.12 422.57L549.11 423.55L551.10 424.52L553.09 425.47L555.08 426.39L557.07 427.30L559.06 428.18L561.05 429.05L563.04 429.90L565.03 430.73L567.02 431.54L569.01 432.33L571.00 433.11L572.99 433.86L574.98 434.60L576.97 435.32L578.96 436.03L580.95 436.72L582.94 437.39L584.93 438.05L586.92 438.69L588.91 439.32L590.90 439.93L592.89 440.53L594.88 441.11L596.87 441.68L598.86 442.24L600.84 442.78L602.83 443.31L604.82 443.83L606.81 444.33L608.80 444.82L610.79 445.30L612.78 445.77L614.77 446.22L616.76 446.66L618.75 447.10L620.74 447.52L622.73 447.93L624.72 448.33L626.71 448.72L628.70 449.10L630.69 449.47L632.68 449.83L634.67 450.18L636.66 450.52L638.65 450.85L640.64 451.18L642.63 451.49L644.62 451.80L646.61 452.10L648.60 452.39L650.59 452.67L652.58 452.95L654.57 453.22L656.56 453.48L658.54 453.73L660.53 453.98L662.52 454.22L664.51 454.45L666.50 454.68L668.49 454.90L670.48 455.11L672.47 455.32L674.46 455.53L676.45 455.72L678.44 455.91L680.43 456.10L682.42 456.28L684.41 456.46L686.40 456.63" stroke="#0000ff" stroke-width="6.4" fill="none" stroke-linecap="round" stroke-linejoin="round"/>
<path d="M423.82 59.04H453.92" stroke="#0000ff" stroke-width="6.3"/>
<path d="M424.12 103.68H453.92" stroke="#000" stroke-width="1.35"/>
<path d="M435.70 144.37l3.55 6.68h-7.10z" stroke="#ff0000" stroke-width="2.40" fill="none" stroke-linejoin="round"/>
<path d="M424.12 193.56H453.92" stroke="#00ff00" stroke-width="6.10" stroke-dasharray="13.00 10.00"/>
<path transform="translate(465.84 66.60) scale(0.7200)" d="M216.94 -15.50L216.31 -14.75L216.19 -14.38L216.19 -13.62L216.38 -13.12L216.94 -12.50L217.62 -12.19L219.19 -12.12L219.19 -1.88L217.62 -1.81L216.94 -1.50L216.50 -1.06L216.19 -0.38L216.19 0.38L216.31 0.75L216.94 1.50L217.62 1.81L225.38 1.81L226.06 1.50L226.69 0.75L226.81 0.38L226.81 -0.38L226.62 -0.88L226.06 -1.50L225.38 -1.81L223.81 -1.88L223.75 -14.62L223.56 -15.00L223.00 -15.56L222.44 -15.81L217.62 -15.81ZM231.62 -22.81L230.94 -22.50L230.50 -22.06L230.19 -21.38L230.19 -15.88L228.62 -15.81L227.94 -15.50L227.31 -14.75L227.19 -14.38L227.19 -13.62L227.50 -12.94L228.12 -12.38L228.62 -12.19L230.19 -12.12L230.19 -3.62L231.38 -0.12L232.12 0.62L234.56 1.81L237.38 1.81L239.88 0.62L240.50 0.06L241.81 -2.62L241.81 -3.38L241.50 -4.06L240.88 -4.62L240.38 -4.81L239.62 -4.81L239.12 -4.62L238.50 -4.06L237.56 -2.31L236.56 -1.81L235.75 -1.81L235.62 -1.94L234.81 -4.31L234.81 -12.12L237.38 -12.19L237.88 -12.38L238.50 -12.94L238.81 -13.62L238.81 -14.38L238.50 -15.06L237.75 -15.69L237.38 -15.81L234.81 -15.88L234.81 -21.38L234.50 -22.06L233.75 -22.69L233.38 -22.81ZM220.56 -22.81L219.69 -22.31L218.50 -21.06L218.19 -20.38L218.19 -19.62L218.69 -18.69L219.69 -17.69L220.62 -17.19L221.38 -17.19L222.31 -17.69L223.31 -18.69L223.81 -19.62L223.81 -20.38L223.31 -21.31L222.00 -22.56L221.44 -22.81ZM213.75 -22.69L213.38 -22.81L210.56 -22.81L207.94 -21.50L207.38 -20.88L206.19 -18.38L206.19 -15.88L204.62 -15.81L203.94 -15.50L203.31 -14.75L203.19 -14.38L203.19 -13.62L203.38 -13.12L203.94 -12.50L204.62 -12.19L206.19 -12.12L206.19 -1.88L204.62 -1.81L203.94 -1.50L203.38 -0.88L203.19 -0.38L203.19 0.38L203.50 1.06L204.25 1.69L204.62 1.81L212.38 1.81L213.06 1.50L213.69 0.75L213.81 0.38L213.81 -0.38L213.62 -0.88L213.06 -1.50L212.38 -1.81L210.81 -1.88L210.81 -12.12L213.38 -12.19L213.88 -12.38L214.50 -12.94L214.81 -13.62L214.81 -14.38L214.50 -15.06L213.75 -15.69L213.38 -15.81L210.88 -15.81L210.81 -17.44L210.94 -17.50L211.69 -16.69L212.25 -16.31L212.62 -16.19L213.38 -16.19L214.31 -16.69L215.62 -18.12L215.81 -18.62L215.81 -20.38L215.69 -20.75L215.31 -21.31L214.31 -22.31ZM184.88 -22.62L184.38 -22.81L183.62 -22.81L183.25 -22.69L182.50 -22.06L182.25 -21.50L182.12 -21.44L181.62 -21.75L178.38 -22.81L174.62 -22.81L171.12 -21.62L170.69 -21.31L168.38 -18.88L168.19 -18.38L168.19 -15.56L169.38 -13.12L170.69 -11.69L173.38 -10.25L179.31 -8.31L180.94 -7.50L182.19 -6.25L182.19 -3.75L181.06 -2.62L178.69 -1.81L176.31 -1.81L173.94 -2.62L172.62 -3.94L171.75 -6.62L171.06 -7.50L170.38 -7.81L169.62 -7.81L169.12 -7.62L168.50 -7.06L168.19 -6.38L168.19 0.38L168.50 1.06L169.12 1.62L169.62 1.81L170.38 1.81L170.75 1.69L171.50 1.06L171.75 0.50L171.88 0.44L172.38 0.75L175.62 1.81L179.38 1.81L182.88 0.62L183.31 0.31L185.62 -2.12L185.81 -2.62L185.81 -7.44L184.31 -10.31L182.88 -11.62L180.62 -12.75L175.00 -14.56L173.06 -15.50L171.81 -16.75L171.81 -17.25L172.94 -18.38L175.31 -19.19L177.94 -19.12L180.06 -18.38L181.38 -17.06L182.25 -14.38L182.94 -13.50L183.62 -13.19L184.38 -13.19L184.75 -13.31L185.50 -13.94L185.81 -14.62L185.81 -21.38L185.50 -22.06ZM164.88 -22.62L164.38 -22.81L163.62 -22.81L163.25 -22.69L162.50 -22.06L162.25 -21.50L162.12 -21.44L161.62 -21.75L158.38 -22.81L154.62 -22.81L151.12 -21.62L150.69 -21.31L148.38 -18.88L148.19 -18.38L148.19 -15.56L149.38 -13.12L150.69 -11.69L153.38 -10.25L159.31 -8.31L160.94 -7.50L162.19 -6.25L162.19 -3.75L161.06 -2.62L158.69 -1.81L156.31 -1.81L153.94 -2.62L152.62 -3.94L151.75 -6.62L151.06 -7.50L150.38 -7.81L149.62 -7.81L149.12 -7.62L148.50 -7.06L148.19 -6.38L148.19 0.38L148.50 1.06L149.12 1.62L149.62 1.81L150.38 1.81L150.75 1.69L151.50 1.06L151.75 0.50L151.88 0.44L152.38 0.75L155.62 1.81L159.38 1.81L162.88 0.62L163.31 0.31L165.62 -2.12L165.81 -2.62L165.81 -7.44L164.31 -10.31L162.88 -11.62L160.62 -12.75L155.00 -14.56L153.06 -15.50L151.81 -16.75L151.81 -17.25L152.94 -18.38L155.31 -19.19L157.94 -19.12L160.06 -18.38L161.38 -17.06L162.25 -14.38L162.94 -13.50L163.62 -13.19L164.38 -13.19L164.75 -13.31L165.50 -13.94L165.81 -14.62L165.81 -21.38L165.50 -22.06ZM126.12 -22.62L125.50 -22.06L125.19 -21.38L125.19 -20.62L125.38 -20.12L125.94 -19.50L126.62 -19.19L128.19 -19.12L128.19 -1.88L126.62 -1.81L125.94 -1.50L125.50 -1.06L125.19 -0.38L125.19 0.38L125.38 0.88L125.94 1.50L126.62 1.81L137.44 1.81L140.88 0.62L141.31 0.31L143.62 -2.12L144.75 -4.38L145.81 -7.62L145.81 -13.38L144.75 -16.62L143.62 -18.88L143.31 -19.31L140.88 -21.62L137.44 -22.81L126.62 -22.81ZM132.88 -19.19L136.56 -19.19L137.94 -18.50L139.50 -16.94L140.44 -15.00L141.19 -12.69L141.19 -8.31L140.31 -5.69L139.50 -4.06L137.94 -2.50L136.56 -1.81L132.81 -1.88ZM122.88 -22.62L122.38 -22.81L121.62 -22.81L121.25 -22.69L120.50 -22.06L120.25 -21.50L120.12 -21.44L119.62 -21.75L116.38 -22.81L112.62 -22.81L109.12 -21.62L108.69 -21.31L106.38 -18.88L106.19 -18.38L106.19 -15.56L107.38 -13.12L108.69 -11.69L111.38 -10.25L117.31 -8.31L118.94 -7.50L120.19 -6.25L120.19 -3.75L119.06 -2.62L116.69 -1.81L114.31 -1.81L111.94 -2.62L110.62 -3.94L109.75 -6.62L109.06 -7.50L108.38 -7.81L107.62 -7.81L107.12 -7.62L106.50 -7.06L106.19 -6.38L106.19 0.38L106.50 1.06L107.12 1.62L107.62 1.81L108.38 1.81L108.75 1.69L109.50 1.06L109.75 0.50L109.88 0.44L110.38 0.75L113.62 1.81L117.38 1.81L120.88 0.62L121.31 0.31L123.62 -2.12L123.81 -2.62L123.81 -7.44L122.31 -10.31L120.88 -11.62L118.62 -12.75L113.00 -14.56L111.06 -15.50L109.81 -16.75L109.81 -17.25L110.94 -18.38L113.31 -19.19L115.94 -19.12L118.06 -18.38L119.38 -17.06L120.25 -14.38L120.94 -13.50L121.62 -13.19L122.38 -13.19L122.75 -13.31L123.50 -13.94L123.81 -14.62L123.81 -21.38L123.50 -22.06ZM80.88 -22.62L80.38 -22.81L79.62 -22.81L79.25 -22.69L78.50 -22.06L78.25 -21.50L78.12 -21.44L77.62 -21.75L74.38 -22.81L70.62 -22.81L67.12 -21.62L66.69 -21.31L64.38 -18.88L64.19 -18.38L64.19 -15.56L65.38 -13.12L66.69 -11.69L69.38 -10.25L75.31 -8.31L76.94 -7.50L78.19 -6.25L78.19 -3.75L77.06 -2.62L74.69 -1.81L72.31 -1.81L69.94 -2.62L68.62 -3.94L67.75 -6.62L67.06 -7.50L66.38 -7.81L65.62 -7.81L65.12 -7.62L64.50 -7.06L64.19 -6.38L64.19 0.38L64.50 1.06L65.12 1.62L65.62 1.81L66.38 1.81L66.75 1.69L67.50 1.06L67.75 0.50L67.88 0.44L68.38 0.75L71.62 1.81L75.38 1.81L78.88 0.62L79.31 0.31L81.62 -2.12L81.81 -2.62L81.81 -7.44L80.31 -10.31L78.88 -11.62L76.62 -12.75L71.00 -14.56L69.06 -15.50L67.81 -16.75L67.81 -17.25L68.94 -18.38L71.31 -19.19L73.94 -19.12L76.06 -18.38L77.38 -17.06L78.25 -14.38L78.94 -13.50L79.62 -13.19L80.38 -13.19L80.75 -13.31L81.50 -13.94L81.81 -14.62L81.81 -21.38L81.50 -22.06ZM41.94 -22.50L41.50 -22.06L41.19 -21.38L41.19 -20.62L41.38 -20.12L41.94 -19.50L42.62 -19.19L44.19 -19.12L44.19 -1.88L42.62 -1.81L42.12 -1.62L41.50 -1.06L41.19 -0.38L41.19 0.38L41.50 1.06L41.94 1.50L42.62 1.81L50.38 1.81L50.88 1.62L51.50 1.06L51.81 0.38L51.81 -0.38L51.50 -1.06L51.06 -1.50L50.38 -1.81L48.81 -1.88L48.81 -9.12L51.56 -9.19L52.69 -8.56L53.31 -7.31L55.19 -0.56L55.69 0.31L56.69 1.31L57.62 1.81L60.38 1.81L61.06 1.50L61.62 0.88L62.81 -1.56L62.81 -3.38L62.69 -3.75L62.06 -4.50L61.38 -4.81L60.62 -4.81L59.94 -4.50L59.25 -3.75L56.75 -9.50L56.94 -9.75L58.88 -10.38L60.31 -11.69L60.62 -12.12L61.81 -14.62L61.81 -17.38L60.62 -19.88L60.31 -20.31L58.88 -21.62L55.44 -22.81L42.62 -22.81ZM48.81 -19.12L54.56 -19.19L55.94 -18.50L56.50 -17.94L57.19 -16.56L57.19 -15.44L56.50 -14.06L55.94 -13.50L54.56 -12.81L48.88 -12.81ZM39.75 -22.69L39.38 -22.81L22.62 -22.81L22.12 -22.62L21.50 -22.06L21.19 -21.38L21.19 -20.62L21.50 -19.94L21.94 -19.50L22.62 -19.19L24.19 -19.12L24.19 -1.88L22.62 -1.81L22.12 -1.62L21.50 -1.06L21.19 -0.38L21.19 0.38L21.38 0.88L21.94 1.50L22.62 1.81L30.38 1.81L30.88 1.62L31.50 1.06L31.81 0.38L31.81 -0.38L31.50 -1.06L31.06 -1.50L30.38 -1.81L28.81 -1.88L28.81 -9.12L31.19 -9.12L31.19 -6.62L31.50 -5.94L32.12 -5.38L32.62 -5.19L33.38 -5.19L33.88 -5.38L34.50 -5.94L34.81 -6.62L34.81 -15.38L34.50 -16.06L33.88 -16.62L33.38 -16.81L32.62 -16.81L32.25 -16.69L31.50 -16.06L31.19 -15.38L31.19 -12.88L28.88 -12.81L28.81 -19.12L36.38 -19.19L36.50 -19.06L37.31 -14.25L37.50 -13.94L38.12 -13.38L38.62 -13.19L39.38 -13.19L40.06 -13.50L40.50 -13.94L40.81 -14.62L40.81 -21.38L40.50 -22.06ZM18.38 -22.81L17.62 -22.81L17.12 -22.62L16.50 -22.06L16.19 -21.44L15.62 -21.75L12.38 -22.81L9.56 -22.81L6.12 -21.62L5.69 -21.31L3.38 -18.88L2.25 -16.62L1.19 -13.38L1.19 -7.62L2.25 -4.38L3.38 -2.12L3.69 -1.69L6.12 0.62L9.56 1.81L12.38 1.81L15.88 0.62L16.31 0.31L18.62 -2.12L19.81 -4.62L19.81 -5.38L19.62 -5.88L19.06 -6.50L18.38 -6.81L17.62 -6.81L16.94 -6.50L16.38 -5.88L15.50 -4.06L14.06 -2.62L11.69 -1.81L10.44 -1.81L9.06 -2.50L7.50 -4.06L6.56 -6.00L5.81 -8.31L5.81 -12.69L6.69 -15.31L7.50 -16.94L9.06 -18.50L10.44 -19.19L11.69 -19.19L14.06 -18.38L15.38 -17.06L16.25 -14.38L16.50 -13.94L17.12 -13.38L17.62 -13.19L18.38 -13.19L18.88 -13.38L19.50 -13.94L19.81 -14.62L19.81 -21.38L19.50 -22.06L19.06 -22.50ZM103.88 -26.62L103.38 -26.81L102.62 -26.81L101.94 -26.50L101.38 -25.88L83.44 6.00L83.19 6.62L83.19 7.38L83.50 8.06L84.12 8.62L84.62 8.81L85.38 8.81L86.06 8.50L86.62 7.88L104.56 -24.00L104.81 -24.62L104.81 -25.38L104.50 -26.06Z" fill="#0000ff" fill-rule="evenodd"/>
<path transform="translate(465.84 111.34) scale(0.7200)" d="M91.75 -20.88L91.38 -20.62L90.19 -19.38L89.12 -17.06L89.12 -15.94L89.25 -15.56L90.56 -14.25L90.94 -14.12L91.44 -14.25L92.62 -15.38L92.81 -15.69L92.88 -16.06L92.62 -16.62L91.38 -17.81L91.69 -18.44L92.50 -19.25L95.12 -20.12L98.75 -20.12L100.44 -19.31L101.31 -18.44L102.06 -16.94L102.12 -15.25L101.38 -13.69L98.44 -11.69L92.62 -8.81L90.38 -6.62L90.12 -6.25L89.19 -3.44L89.19 0.31L89.69 0.81L90.06 0.88L90.44 0.75L90.75 0.44L90.88 0.06L90.88 -1.62L91.38 -2.12L92.75 -2.12L97.69 0.81L102.31 0.81L102.62 0.62L103.81 -0.62L104.81 -2.62L104.88 -5.06L104.75 -5.44L104.31 -5.81L103.69 -5.81L103.19 -5.31L103.12 -3.38L102.44 -2.69L100.75 -1.88L98.19 -1.88L93.44 -3.81L91.31 -3.88L91.25 -4.00L91.75 -5.50L93.56 -7.31L95.31 -8.19L100.25 -10.12L103.50 -12.25L103.81 -12.62L104.81 -14.62L104.81 -17.38L103.81 -19.38L102.62 -20.62L102.25 -20.88L99.44 -21.81L94.94 -21.88ZM84.31 -21.81L83.69 -21.81L83.25 -21.44L82.56 -19.69L81.25 -20.88L78.44 -21.81L75.56 -21.81L72.75 -20.88L72.38 -20.62L70.19 -18.38L69.12 -16.25L68.19 -13.44L68.12 -7.94L69.12 -4.75L70.19 -2.62L72.38 -0.38L72.75 -0.12L75.88 0.88L78.44 0.81L81.25 -0.12L81.62 -0.38L83.81 -2.62L84.88 -4.94L84.75 -5.44L84.44 -5.75L83.94 -5.88L83.56 -5.75L83.19 -5.38L82.31 -3.56L80.50 -1.75L77.88 -0.88L76.25 -0.88L74.56 -1.69L72.69 -3.56L71.75 -5.50L70.88 -8.12L70.88 -12.88L71.75 -15.50L72.69 -17.44L74.56 -19.31L76.25 -20.12L77.88 -20.12L80.50 -19.25L82.25 -17.50L83.25 -14.56L83.69 -14.19L84.06 -14.12L84.44 -14.25L84.75 -14.56L84.88 -14.94L84.88 -21.06L84.75 -21.44ZM53.75 -21.88L50.75 -20.88L50.38 -20.62L48.19 -18.38L47.19 -16.38L46.12 -12.25L46.12 -8.75L47.19 -4.62L48.19 -2.62L50.38 -0.38L50.75 -0.12L53.56 0.81L56.12 0.88L59.25 -0.12L59.62 -0.38L61.81 -2.62L62.81 -4.62L63.88 -8.75L63.88 -12.25L62.81 -16.38L61.81 -18.38L59.62 -20.62L59.25 -20.88L56.44 -21.81ZM54.25 -20.12L55.75 -20.12L57.44 -19.31L59.31 -17.44L60.25 -15.44L61.12 -11.88L61.12 -9.12L60.12 -5.19L59.31 -3.56L57.44 -1.69L55.75 -0.88L54.25 -0.88L52.56 -1.69L50.69 -3.56L49.75 -5.56L48.88 -9.12L48.88 -11.88L49.88 -15.81L50.69 -17.44L52.56 -19.31ZM22.56 -21.75L22.25 -21.44L22.12 -21.06L22.25 -20.56L22.56 -20.25L22.94 -20.12L25.12 -20.06L25.12 -0.94L22.69 -0.81L22.19 -0.31L22.12 0.06L22.25 0.44L22.56 0.75L22.94 0.88L29.06 0.88L29.44 0.75L29.81 0.31L29.81 -0.31L29.31 -0.81L26.88 -0.94L26.94 -17.38L38.25 0.50L38.88 0.88L39.44 0.75L39.75 0.44L39.88 0.12L39.88 -20.06L42.31 -20.19L42.81 -20.69L42.88 -21.06L42.75 -21.44L42.44 -21.75L42.06 -21.88L35.94 -21.88L35.56 -21.75L35.19 -21.31L35.19 -20.69L35.69 -20.19L38.12 -20.06L38.06 -5.19L27.75 -21.50L27.12 -21.88L22.94 -21.88ZM18.31 -21.81L17.69 -21.81L17.25 -21.44L16.56 -19.69L15.25 -20.88L12.44 -21.81L9.56 -21.81L6.75 -20.88L6.38 -20.62L4.19 -18.38L3.12 -16.25L2.19 -13.44L2.12 -7.94L3.12 -4.75L4.19 -2.62L6.38 -0.38L6.75 -0.12L9.88 0.88L12.44 0.81L15.25 -0.12L15.62 -0.38L17.81 -2.62L18.88 -4.94L18.75 -5.44L18.44 -5.75L17.94 -5.88L17.56 -5.75L17.19 -5.38L16.31 -3.56L14.50 -1.75L11.88 -0.88L10.25 -0.88L8.56 -1.69L6.69 -3.56L5.75 -5.50L4.88 -8.12L4.88 -12.88L5.75 -15.50L6.69 -17.44L8.56 -19.31L10.25 -20.12L11.88 -20.12L14.50 -19.25L16.25 -17.50L17.25 -14.56L17.69 -14.19L18.06 -14.12L18.44 -14.25L18.75 -14.56L18.88 -14.94L18.88 -21.06L18.75 -21.44Z" fill="#000" fill-rule="evenodd"/>
<path transform="translate(465.84 156.08) scale(0.7200)" d="M136.94 -15.50L136.31 -14.75L136.19 -14.38L136.19 -13.62L136.38 -13.12L136.94 -12.50L137.62 -12.19L139.19 -12.12L139.19 -1.88L137.62 -1.81L136.94 -1.50L136.50 -1.06L136.19 -0.38L136.19 0.38L136.31 0.75L136.94 1.50L137.62 1.81L145.38 1.81L146.06 1.50L146.69 0.75L146.81 0.38L146.81 -0.38L146.62 -0.88L146.06 -1.50L145.38 -1.81L143.81 -1.88L143.75 -14.62L143.56 -15.00L143.00 -15.56L142.44 -15.81L137.62 -15.81ZM151.62 -22.81L150.94 -22.50L150.50 -22.06L150.19 -21.38L150.19 -15.88L148.62 -15.81L147.94 -15.50L147.31 -14.75L147.19 -14.38L147.19 -13.62L147.50 -12.94L148.12 -12.38L148.62 -12.19L150.19 -12.12L150.19 -3.62L151.38 -0.12L152.12 0.62L154.56 1.81L157.38 1.81L159.88 0.62L160.50 0.06L161.81 -2.62L161.81 -3.38L161.50 -4.06L160.88 -4.62L160.38 -4.81L159.62 -4.81L159.12 -4.62L158.50 -4.06L157.56 -2.31L156.56 -1.81L155.75 -1.81L155.62 -1.94L154.81 -4.31L154.81 -12.12L157.38 -12.19L157.88 -12.38L158.50 -12.94L158.81 -13.62L158.81 -14.38L158.50 -15.06L157.75 -15.69L157.38 -15.81L154.81 -15.88L154.81 -21.38L154.50 -22.06L153.75 -22.69L153.38 -22.81ZM140.56 -22.81L139.69 -22.31L138.50 -21.06L138.19 -20.38L138.19 -19.62L138.69 -18.69L139.69 -17.69L140.62 -17.19L141.38 -17.19L142.31 -17.69L143.31 -18.69L143.81 -19.62L143.81 -20.38L143.31 -21.31L142.00 -22.56L141.44 -22.81ZM133.75 -22.69L133.38 -22.81L130.56 -22.81L127.94 -21.50L127.38 -20.88L126.19 -18.38L126.19 -15.88L124.62 -15.81L123.94 -15.50L123.31 -14.75L123.19 -14.38L123.19 -13.62L123.38 -13.12L123.94 -12.50L124.62 -12.19L126.19 -12.12L126.19 -1.88L124.62 -1.81L123.94 -1.50L123.38 -0.88L123.19 -0.38L123.19 0.38L123.50 1.06L124.25 1.69L124.62 1.81L132.38 1.81L133.06 1.50L133.69 0.75L133.81 0.38L133.81 -0.38L133.62 -0.88L133.06 -1.50L132.38 -1.81L130.81 -1.88L130.81 -12.12L133.38 -12.19L133.88 -12.38L134.50 -12.94L134.81 -13.62L134.81 -14.38L134.50 -15.06L133.75 -15.69L133.38 -15.81L130.88 -15.81L130.81 -17.44L130.94 -17.50L131.69 -16.69L132.25 -16.31L132.62 -16.19L133.38 -16.19L134.31 -16.69L135.62 -18.12L135.81 -18.62L135.81 -20.38L135.69 -20.75L135.31 -21.31L134.31 -22.31ZM91.38 -21.75L90.69 -21.31L89.50 -20.06L88.19 -17.38L88.19 -15.62L88.31 -15.25L88.69 -14.69L90.12 -13.38L90.62 -13.19L91.38 -13.19L91.75 -13.31L92.31 -13.69L93.31 -14.69L93.81 -15.62L93.81 -16.38L93.50 -17.06L92.62 -17.94L92.62 -18.06L93.19 -18.50L95.31 -19.19L98.56 -19.19L99.94 -18.50L100.50 -17.94L101.19 -16.56L101.19 -15.44L100.44 -14.12L98.06 -12.56L92.12 -9.62L89.69 -7.31L89.25 -6.62L88.19 -3.38L88.19 0.38L88.50 1.06L89.25 1.69L89.62 1.81L90.38 1.81L91.06 1.50L91.69 0.75L91.81 0.38L91.81 -1.12L92.50 -1.19L97.00 1.56L97.62 1.81L102.38 1.81L102.75 1.69L103.31 1.31L104.50 0.06L105.81 -2.56L105.81 -5.38L105.50 -6.06L104.88 -6.62L104.38 -6.81L103.62 -6.81L102.94 -6.50L102.50 -6.06L102.19 -5.38L102.19 -3.75L101.94 -3.50L100.56 -2.81L98.38 -2.81L93.62 -4.75L92.62 -4.81L92.56 -4.94L94.06 -6.50L96.25 -7.56L100.62 -9.25L104.00 -11.44L104.62 -12.12L105.81 -14.62L105.81 -17.38L104.62 -19.88L103.31 -21.31L102.62 -21.75L99.44 -22.81L94.62 -22.81ZM84.38 -22.81L83.62 -22.81L83.12 -22.62L82.50 -22.06L82.19 -21.44L81.62 -21.75L78.38 -22.81L75.56 -22.81L72.12 -21.62L71.69 -21.31L69.38 -18.88L68.25 -16.62L67.19 -13.38L67.19 -7.62L68.25 -4.38L69.38 -2.12L69.69 -1.69L72.12 0.62L75.56 1.81L78.38 1.81L81.88 0.62L82.31 0.31L84.62 -2.12L85.81 -4.62L85.81 -5.38L85.62 -5.88L85.06 -6.50L84.38 -6.81L83.62 -6.81L82.94 -6.50L82.38 -5.88L81.50 -4.06L80.06 -2.62L77.69 -1.81L76.44 -1.81L75.06 -2.50L73.50 -4.06L72.56 -6.00L71.81 -8.31L71.81 -12.69L72.69 -15.31L73.50 -16.94L75.06 -18.50L76.44 -19.19L77.69 -19.19L80.06 -18.38L81.38 -17.06L82.25 -14.38L82.50 -13.94L83.12 -13.38L83.62 -13.19L84.38 -13.19L84.88 -13.38L85.50 -13.94L85.81 -14.62L85.81 -21.38L85.50 -22.06L85.06 -22.50ZM21.94 -22.50L21.50 -22.06L21.19 -21.38L21.19 -20.62L21.38 -20.12L21.94 -19.50L22.62 -19.19L24.19 -19.12L24.19 -1.88L22.62 -1.81L22.12 -1.62L21.50 -1.06L21.19 -0.38L21.19 0.38L21.50 1.06L21.94 1.50L22.62 1.81L29.38 1.81L30.06 1.50L30.69 0.75L30.81 0.38L30.81 -0.38L30.62 -0.88L30.06 -1.50L29.38 -1.81L27.81 -1.88L27.88 -14.19L37.44 1.00L38.00 1.56L38.56 1.81L39.44 1.81L40.00 1.56L40.56 1.00L40.81 0.44L40.81 -19.12L42.38 -19.19L42.88 -19.38L43.50 -19.94L43.81 -20.62L43.81 -21.38L43.50 -22.06L43.06 -22.50L42.38 -22.81L35.62 -22.81L34.94 -22.50L34.31 -21.75L34.19 -21.38L34.19 -20.62L34.38 -20.12L34.94 -19.50L35.62 -19.19L37.19 -19.12L37.12 -8.44L28.69 -21.81L28.00 -22.56L27.44 -22.81L22.62 -22.81ZM18.38 -22.81L17.62 -22.81L17.12 -22.62L16.50 -22.06L16.19 -21.44L15.62 -21.75L12.38 -22.81L9.56 -22.81L6.12 -21.62L5.69 -21.31L3.38 -18.88L2.25 -16.62L1.19 -13.38L1.19 -7.62L2.25 -4.38L3.38 -2.12L3.69 -1.69L6.12 0.62L9.56 1.81L12.38 1.81L15.88 0.62L16.31 0.31L18.62 -2.12L19.81 -4.62L19.81 -5.38L19.62 -5.88L19.06 -6.50L18.38 -6.81L17.62 -6.81L16.94 -6.50L16.38 -5.88L15.50 -4.06L14.06 -2.62L11.69 -1.81L10.44 -1.81L9.06 -2.50L7.50 -4.06L6.56 -6.00L5.81 -8.31L5.81 -12.69L6.69 -15.31L7.50 -16.94L9.06 -18.50L10.44 -19.19L11.69 -19.19L14.06 -18.38L15.38 -17.06L16.25 -14.38L16.50 -13.94L17.12 -13.38L17.62 -13.19L18.38 -13.19L18.88 -13.38L19.50 -13.94L19.81 -14.62L19.81 -21.38L19.50 -22.06L19.06 -22.50ZM54.00 -22.88L50.12 -21.62L49.69 -21.31L47.38 -18.88L46.31 -16.75L45.19 -12.38L45.19 -8.62L46.31 -4.25L47.38 -2.12L49.69 0.31L50.38 0.75L53.56 1.81L56.44 1.81L59.88 0.62L60.31 0.31L62.62 -2.12L63.69 -4.25L64.81 -8.62L64.81 -12.38L63.69 -16.75L62.62 -18.88L60.31 -21.31L59.62 -21.75L56.44 -22.81ZM54.44 -19.19L55.56 -19.19L56.94 -18.50L58.50 -16.94L59.38 -15.06L60.19 -11.75L60.19 -9.25L59.25 -5.56L58.50 -4.06L56.94 -2.50L55.56 -1.81L54.44 -1.81L53.06 -2.50L51.50 -4.06L50.62 -5.94L49.81 -9.25L49.81 -11.75L50.75 -15.44L51.50 -16.94L53.06 -18.50Z" fill="#ff0000" fill-rule="evenodd"/>
<path transform="translate(465.84 200.82) scale(0.7200)" d="M198.19 -9.38L198.19 -8.62L198.38 -8.12L198.94 -7.50L199.62 -7.19L218.38 -7.19L219.06 -7.50L219.50 -7.94L219.81 -8.62L219.81 -9.38L219.62 -9.88L219.06 -10.50L218.38 -10.81L199.62 -10.81L198.94 -10.50L198.50 -10.06ZM223.94 -15.50L223.50 -15.06L223.19 -14.38L223.19 -9.62L223.50 -8.94L224.25 -8.31L224.62 -8.19L225.38 -8.19L225.88 -8.38L226.50 -8.94L226.81 -9.62L227.38 -12.06L227.50 -12.19L232.19 -12.12L223.56 -1.19L223.19 -0.44L223.19 0.44L223.44 1.00L224.00 1.56L224.56 1.81L237.38 1.81L238.06 1.50L238.50 1.06L238.81 0.38L238.81 -4.38L238.50 -5.06L237.75 -5.69L237.38 -5.81L236.62 -5.81L236.12 -5.62L235.50 -5.06L235.19 -4.38L234.62 -1.94L234.50 -1.81L229.81 -1.88L238.44 -12.81L238.81 -13.56L238.81 -14.44L238.56 -15.00L238.00 -15.56L237.44 -15.81L224.62 -15.81ZM99.62 -15.81L98.94 -15.50L98.38 -14.88L98.19 -14.38L98.19 -13.62L98.50 -12.94L99.12 -12.38L99.62 -12.19L101.19 -12.12L101.19 5.12L99.62 5.19L98.94 5.50L98.31 6.25L98.19 6.62L98.19 7.38L98.50 8.06L98.94 8.50L99.62 8.81L107.38 8.81L108.06 8.50L108.62 7.88L108.81 7.38L108.81 6.62L108.50 5.94L107.88 5.38L107.38 5.19L105.81 5.12L105.81 1.06L105.94 1.00L107.62 1.81L110.44 1.81L113.62 0.75L114.31 0.31L116.31 -1.69L116.75 -2.38L117.81 -5.62L117.75 -8.62L116.75 -11.62L116.50 -12.06L114.31 -14.31L113.62 -14.75L110.44 -15.81L107.62 -15.81L105.69 -14.88L105.00 -15.56L104.44 -15.81ZM108.44 -12.19L109.56 -12.19L110.94 -11.50L112.38 -10.06L113.19 -7.69L113.19 -6.31L112.38 -3.94L110.94 -2.50L109.56 -1.81L108.44 -1.81L107.06 -2.50L105.81 -3.75L105.81 -10.25L107.06 -11.50ZM184.56 -15.81L181.12 -14.62L180.69 -14.31L178.50 -12.06L178.25 -11.62L177.19 -8.38L177.19 -5.62L178.38 -2.12L178.69 -1.69L180.94 0.50L181.38 0.75L184.56 1.81L187.44 1.81L190.88 0.62L191.31 0.31L193.50 -1.94L193.75 -2.38L194.81 -5.62L194.81 -8.38L193.62 -11.88L193.31 -12.31L191.06 -14.50L190.62 -14.75L187.44 -15.81ZM185.44 -12.19L186.56 -12.19L187.94 -11.50L189.38 -10.06L190.19 -7.69L190.19 -6.31L189.38 -3.94L187.94 -2.50L186.56 -1.81L185.44 -1.81L184.06 -2.50L182.62 -3.94L181.81 -6.31L181.81 -7.69L182.62 -10.06L184.06 -11.50ZM149.56 -15.81L146.12 -14.62L145.69 -14.31L143.50 -12.06L143.25 -11.62L142.19 -8.38L142.19 -5.62L143.38 -2.12L143.69 -1.69L145.94 0.50L146.38 0.75L149.56 1.81L152.44 1.81L155.88 0.62L156.31 0.31L158.50 -1.94L158.75 -2.38L159.81 -5.62L159.81 -8.38L158.62 -11.88L158.31 -12.31L156.06 -14.50L155.62 -14.75L152.44 -15.81ZM150.44 -12.19L151.56 -12.19L152.94 -11.50L154.38 -10.06L155.19 -7.69L155.19 -6.31L154.38 -3.94L152.94 -2.50L151.56 -1.81L150.44 -1.81L149.06 -2.50L147.62 -3.94L146.81 -6.31L146.81 -7.69L147.62 -10.06L149.06 -11.50ZM165.62 -22.81L164.94 -22.50L164.50 -22.06L164.19 -21.38L164.19 -15.88L162.62 -15.81L161.94 -15.50L161.31 -14.75L161.19 -14.38L161.19 -13.62L161.50 -12.94L162.12 -12.38L162.62 -12.19L164.19 -12.12L164.19 -3.62L165.38 -0.12L166.12 0.62L168.56 1.81L171.38 1.81L173.88 0.62L174.50 0.06L175.81 -2.62L175.81 -3.38L175.50 -4.06L174.88 -4.62L174.38 -4.81L173.62 -4.81L173.12 -4.62L172.50 -4.06L171.56 -2.31L170.56 -1.81L169.75 -1.81L169.62 -1.94L168.81 -4.31L168.81 -12.12L171.38 -12.19L171.88 -12.38L172.50 -12.94L172.81 -13.62L172.81 -14.38L172.50 -15.06L171.75 -15.69L171.38 -15.81L168.81 -15.88L168.81 -21.38L168.50 -22.06L167.75 -22.69L167.38 -22.81ZM119.94 -22.50L119.50 -22.06L119.19 -21.38L119.19 -20.62L119.38 -20.12L119.94 -19.50L120.62 -19.19L122.19 -19.12L122.19 -1.88L120.62 -1.81L120.12 -1.62L119.50 -1.06L119.19 -0.38L119.19 0.38L119.50 1.06L119.94 1.50L120.62 1.81L128.38 1.81L128.88 1.62L129.50 1.06L129.81 0.38L129.81 -0.38L129.50 -1.06L129.06 -1.50L128.38 -1.81L126.81 -1.88L126.81 -10.25L127.94 -11.38L130.31 -12.19L131.56 -12.19L132.56 -11.69L133.19 -10.56L133.19 -1.88L131.62 -1.81L130.94 -1.50L130.50 -1.06L130.19 -0.38L130.19 0.38L130.38 0.88L130.94 1.50L131.62 1.81L139.38 1.81L140.06 1.50L140.50 1.06L140.81 0.38L140.81 -0.38L140.62 -0.88L140.06 -1.50L139.38 -1.81L137.81 -1.88L137.81 -11.38L136.50 -14.06L135.62 -14.75L132.44 -15.81L129.62 -15.81L126.88 -14.88L126.81 -21.44L126.56 -22.00L126.00 -22.56L125.44 -22.81L120.62 -22.81ZM79.88 -22.62L79.38 -22.81L78.62 -22.81L78.25 -22.69L77.50 -22.06L77.25 -21.50L77.12 -21.44L76.62 -21.75L73.38 -22.81L69.62 -22.81L66.12 -21.62L65.69 -21.31L63.38 -18.88L63.19 -18.38L63.19 -15.56L64.38 -13.12L65.69 -11.69L68.38 -10.25L74.31 -8.31L75.94 -7.50L77.19 -6.25L77.19 -3.75L76.06 -2.62L73.69 -1.81L71.31 -1.81L68.94 -2.62L67.62 -3.94L66.75 -6.62L66.06 -7.50L65.38 -7.81L64.62 -7.81L64.12 -7.62L63.50 -7.06L63.19 -6.38L63.19 0.38L63.50 1.06L64.12 1.62L64.62 1.81L65.38 1.81L65.75 1.69L66.50 1.06L66.75 0.50L66.88 0.44L67.38 0.75L70.62 1.81L74.38 1.81L77.88 0.62L78.31 0.31L80.62 -2.12L80.81 -2.62L80.81 -7.44L79.31 -10.31L77.88 -11.62L75.62 -12.75L70.00 -14.56L68.06 -15.50L66.81 -16.75L66.81 -17.25L67.94 -18.38L70.31 -19.19L72.94 -19.12L75.06 -18.38L76.38 -17.06L77.25 -14.38L77.94 -13.50L78.62 -13.19L79.38 -13.19L79.75 -13.31L80.50 -13.94L80.81 -14.62L80.81 -21.38L80.50 -22.06ZM59.88 -22.62L59.38 -22.81L58.62 -22.81L58.25 -22.69L57.50 -22.06L57.25 -21.50L57.12 -21.44L56.62 -21.75L53.38 -22.81L49.62 -22.81L46.12 -21.62L45.69 -21.31L43.38 -18.88L43.19 -18.38L43.19 -15.56L44.38 -13.12L45.69 -11.69L48.38 -10.25L54.31 -8.31L55.94 -7.50L57.19 -6.25L57.19 -3.75L56.06 -2.62L53.69 -1.81L51.31 -1.81L48.94 -2.62L47.62 -3.94L46.75 -6.62L46.06 -7.50L45.38 -7.81L44.62 -7.81L44.12 -7.62L43.50 -7.06L43.19 -6.38L43.19 0.38L43.50 1.06L44.12 1.62L44.62 1.81L45.38 1.81L45.75 1.69L46.50 1.06L46.75 0.50L46.88 0.44L47.38 0.75L50.62 1.81L54.38 1.81L57.88 0.62L58.31 0.31L60.62 -2.12L60.81 -2.62L60.81 -7.44L59.31 -10.31L57.88 -11.62L55.62 -12.75L50.00 -14.56L48.06 -15.50L46.81 -16.75L46.81 -17.25L47.94 -18.38L50.31 -19.19L52.94 -19.12L55.06 -18.38L56.38 -17.06L57.25 -14.38L57.94 -13.50L58.62 -13.19L59.38 -13.19L59.75 -13.31L60.50 -13.94L60.81 -14.62L60.81 -21.38L60.50 -22.06ZM21.12 -22.62L20.50 -22.06L20.19 -21.38L20.19 -20.62L20.38 -20.12L20.94 -19.50L21.62 -19.19L23.19 -19.12L23.19 -1.88L21.62 -1.81L20.94 -1.50L20.50 -1.06L20.19 -0.38L20.19 0.38L20.38 0.88L20.94 1.50L21.62 1.81L32.44 1.81L35.88 0.62L36.31 0.31L38.62 -2.12L39.75 -4.38L40.81 -7.62L40.81 -13.38L39.75 -16.62L38.62 -18.88L38.31 -19.31L35.88 -21.62L32.44 -22.81L21.62 -22.81ZM27.88 -19.19L31.56 -19.19L32.94 -18.50L34.50 -16.94L35.44 -15.00L36.19 -12.69L36.19 -8.31L35.31 -5.69L34.50 -4.06L32.94 -2.50L31.56 -1.81L27.81 -1.88ZM17.88 -22.62L17.38 -22.81L16.62 -22.81L16.25 -22.69L15.50 -22.06L15.25 -21.50L15.12 -21.44L14.62 -21.75L11.38 -22.81L7.62 -22.81L4.12 -21.62L3.69 -21.31L1.38 -18.88L1.19 -18.38L1.19 -15.56L2.38 -13.12L3.69 -11.69L6.38 -10.25L12.31 -8.31L13.94 -7.50L15.19 -6.25L15.19 -3.75L14.06 -2.62L11.69 -1.81L9.31 -1.81L6.94 -2.62L5.62 -3.94L4.75 -6.62L4.06 -7.50L3.38 -7.81L2.62 -7.81L2.12 -7.62L1.50 -7.06L1.19 -6.38L1.19 0.38L1.50 1.06L2.12 1.62L2.62 1.81L3.38 1.81L3.75 1.69L4.50 1.06L4.75 0.50L4.88 0.44L5.38 0.75L8.62 1.81L12.38 1.81L15.88 0.62L16.31 0.31L18.62 -2.12L18.81 -2.62L18.81 -7.44L17.31 -10.31L15.88 -11.62L13.62 -12.75L8.00 -14.56L6.06 -15.50L4.81 -16.75L4.81 -17.25L5.94 -18.38L8.31 -19.19L10.94 -19.12L13.06 -18.38L14.38 -17.06L15.25 -14.38L15.94 -13.50L16.62 -13.19L17.38 -13.19L17.75 -13.31L18.50 -13.94L18.81 -14.62L18.81 -21.38L18.50 -22.06Z" fill="#00ff00" fill-rule="evenodd"/>
</svg>
</body></html>
